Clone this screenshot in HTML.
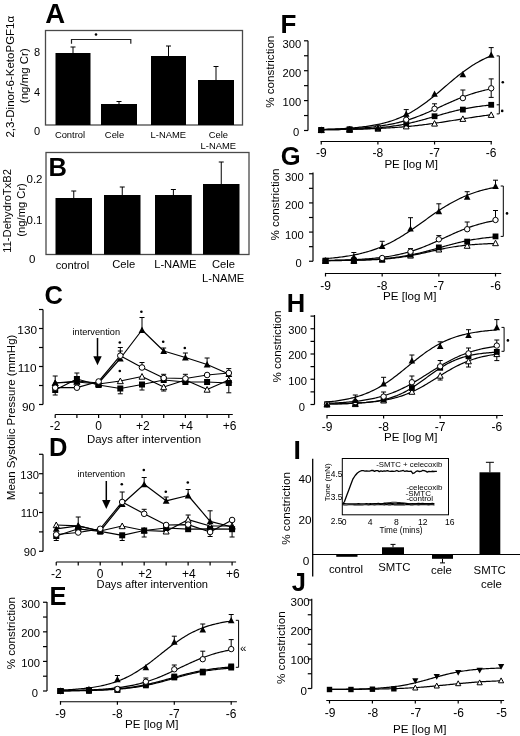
<!DOCTYPE html>
<html><head><meta charset="utf-8"><style>
html,body{margin:0;padding:0;background:#fff;}
svg{display:block;will-change:transform;}
text{font-family:"Liberation Sans", sans-serif;}
</style></head><body>
<svg width="520" height="736" viewBox="0 0 520 736">
<defs><filter id="soft" x="0" y="0" width="1" height="1"><feGaussianBlur stdDeviation="0.3"/></filter></defs>
<rect width="520" height="736" fill="#fff"/>
<g filter="url(#soft)">
<rect width="520" height="736" fill="#fff"/>
<text x="45.3" y="22.7" font-size="27.5" text-anchor="start" font-weight="bold" fill="#000">A</text>
<rect x="45.5" y="30.5" width="197" height="94.5" fill="none" stroke="#4a4a4a" stroke-width="1.3"/>
<rect x="55.5" y="53" width="35.0" height="72" fill="#000"/>
<line x1="73.0" y1="53" x2="73.0" y2="47" stroke="#000" stroke-width="1"/>
<line x1="70.5" y1="47" x2="75.5" y2="47" stroke="#000" stroke-width="1"/>
<rect x="101" y="104" width="36" height="21" fill="#000"/>
<line x1="119.0" y1="104" x2="119.0" y2="101.5" stroke="#000" stroke-width="1"/>
<line x1="116.5" y1="101.5" x2="121.5" y2="101.5" stroke="#000" stroke-width="1"/>
<rect x="151" y="56" width="35" height="69" fill="#000"/>
<line x1="168.5" y1="56" x2="168.5" y2="46" stroke="#000" stroke-width="1"/>
<line x1="166.0" y1="46" x2="171.0" y2="46" stroke="#000" stroke-width="1"/>
<rect x="198" y="80" width="36" height="45" fill="#000"/>
<line x1="216.0" y1="80" x2="216.0" y2="66.5" stroke="#000" stroke-width="1"/>
<line x1="213.5" y1="66.5" x2="218.5" y2="66.5" stroke="#000" stroke-width="1"/>
<path d="M71.5,43.8 V39.5 H130.8 V43.8" fill="none" stroke="#222" stroke-width="1.2"/>
<circle cx="96" cy="34.5" r="1.3" fill="#000"/>
<text x="40" y="55.8" font-size="11" text-anchor="end" fill="#000">8</text>
<text x="40" y="95.5" font-size="11" text-anchor="end" fill="#000">4</text>
<text x="40" y="135.3" font-size="11" text-anchor="end" fill="#000">0</text>
<text x="14.5" y="76.7" font-size="11.5" text-anchor="middle" transform="rotate(-90 14.5 76.7)" fill="#000">2,3-Dinor-6-KetoPGF1α</text>
<text x="28.2" y="75.7" font-size="11.5" text-anchor="middle" transform="rotate(-90 28.2 75.7)" fill="#000">(ng/mg Cr)</text>
<text x="70" y="137.9" font-size="9.4" text-anchor="middle" fill="#000">Control</text>
<text x="114.5" y="137.9" font-size="9.4" text-anchor="middle" fill="#000">Cele</text>
<text x="168.3" y="138.4" font-size="9.4" text-anchor="middle" fill="#000">L-NAME</text>
<text x="218.3" y="138.4" font-size="9.4" text-anchor="middle" fill="#000">Cele</text>
<text x="218.3" y="149.4" font-size="9.4" text-anchor="middle" fill="#000">L-NAME</text>
<text x="48.5" y="175.5" font-size="25.5" text-anchor="start" font-weight="bold" fill="#000">B</text>
<rect x="46" y="152.5" width="203" height="102" fill="none" stroke="#4a4a4a" stroke-width="1.3"/>
<rect x="55.5" y="198" width="36.5" height="56.5" fill="#000"/>
<line x1="73.75" y1="198" x2="73.75" y2="191" stroke="#000" stroke-width="1"/>
<line x1="71.25" y1="191" x2="76.25" y2="191" stroke="#000" stroke-width="1"/>
<rect x="104" y="195" width="36.5" height="59.5" fill="#000"/>
<line x1="122.25" y1="195" x2="122.25" y2="187" stroke="#000" stroke-width="1"/>
<line x1="119.75" y1="187" x2="124.75" y2="187" stroke="#000" stroke-width="1"/>
<rect x="155" y="195" width="36.75" height="59.5" fill="#000"/>
<line x1="173.375" y1="195" x2="173.375" y2="189.5" stroke="#000" stroke-width="1"/>
<line x1="170.875" y1="189.5" x2="175.875" y2="189.5" stroke="#000" stroke-width="1"/>
<rect x="203" y="184" width="36.5" height="70.5" fill="#000"/>
<line x1="221.25" y1="184" x2="221.25" y2="162" stroke="#000" stroke-width="1"/>
<line x1="218.75" y1="162" x2="223.75" y2="162" stroke="#000" stroke-width="1"/>
<text x="42.5" y="183.4" font-size="11.5" text-anchor="end" fill="#000">0.2</text>
<text x="42.5" y="223.79999999999998" font-size="11.5" text-anchor="end" fill="#000">0.1</text>
<text x="35.5" y="263.40000000000003" font-size="11.5" text-anchor="end" fill="#000">0</text>
<text x="10.6" y="210.9" font-size="11.2" text-anchor="middle" transform="rotate(-90 10.6 210.9)" fill="#000">11-DehydroTxB2</text>
<text x="24.6" y="209.9" font-size="11.2" text-anchor="middle" transform="rotate(-90 24.6 209.9)" fill="#000">(ng/mg Cr)</text>
<text x="72.5" y="269" font-size="11.2" text-anchor="middle" fill="#000">control</text>
<text x="123.8" y="268" font-size="11.2" text-anchor="middle" fill="#000">Cele</text>
<text x="175.3" y="268" font-size="11.2" text-anchor="middle" fill="#000">L-NAME</text>
<text x="223.5" y="268" font-size="11.2" text-anchor="middle" fill="#000">Cele</text>
<text x="223.2" y="281.5" font-size="11.2" text-anchor="middle" fill="#000">L-NAME</text>
<text x="44.5" y="304.2" font-size="25.5" text-anchor="start" font-weight="bold" fill="#000">C</text>
<line x1="43" y1="309.5" x2="43" y2="404.5" stroke="#000" stroke-width="1.2"/>
<line x1="39" y1="309.5" x2="43" y2="309.5" stroke="#000" stroke-width="1.2"/>
<line x1="39" y1="328.5" x2="43" y2="328.5" stroke="#000" stroke-width="1.2"/>
<line x1="39" y1="347.5" x2="43" y2="347.5" stroke="#000" stroke-width="1.2"/>
<line x1="39" y1="366.5" x2="43" y2="366.5" stroke="#000" stroke-width="1.2"/>
<line x1="39" y1="385.5" x2="43" y2="385.5" stroke="#000" stroke-width="1.2"/>
<line x1="39" y1="404.5" x2="43" y2="404.5" stroke="#000" stroke-width="1.2"/>
<text x="27.2" y="333.7" font-size="11.8" text-anchor="middle" fill="#000">130</text>
<text x="27.2" y="371.7" font-size="11.8" text-anchor="middle" fill="#000">110</text>
<text x="28.6" y="410.5" font-size="11.8" text-anchor="middle" fill="#000">90</text>
<line x1="55.2" y1="414.5" x2="232.8" y2="414.5" stroke="#000" stroke-width="1.2"/>
<line x1="55.2" y1="414.5" x2="55.2" y2="418.0" stroke="#000" stroke-width="1.2"/>
<line x1="76.9" y1="414.5" x2="76.9" y2="418.0" stroke="#000" stroke-width="1.2"/>
<line x1="98.6" y1="414.5" x2="98.6" y2="418.0" stroke="#000" stroke-width="1.2"/>
<line x1="120.3" y1="414.5" x2="120.3" y2="418.0" stroke="#000" stroke-width="1.2"/>
<line x1="142.0" y1="414.5" x2="142.0" y2="418.0" stroke="#000" stroke-width="1.2"/>
<line x1="163.7" y1="414.5" x2="163.7" y2="418.0" stroke="#000" stroke-width="1.2"/>
<line x1="185.39999999999998" y1="414.5" x2="185.39999999999998" y2="418.0" stroke="#000" stroke-width="1.2"/>
<line x1="207.10000000000002" y1="414.5" x2="207.10000000000002" y2="418.0" stroke="#000" stroke-width="1.2"/>
<line x1="228.8" y1="414.5" x2="228.8" y2="418.0" stroke="#000" stroke-width="1.2"/>
<text x="55.2" y="430.3" font-size="12" text-anchor="middle" fill="#000">-2</text>
<text x="98.6" y="430.3" font-size="12" text-anchor="middle" fill="#000">0</text>
<text x="142.8" y="430.3" font-size="12" text-anchor="middle" fill="#000">+2</text>
<text x="186.2" y="430.3" font-size="12" text-anchor="middle" fill="#000">+4</text>
<text x="229.60000000000002" y="430.3" font-size="12" text-anchor="middle" fill="#000">+6</text>
<text x="87" y="442.6" font-size="11.4" text-anchor="start" fill="#000">Days after intervention</text>
<text x="72.5" y="335.3" font-size="9.2" text-anchor="start" fill="#000">intervention</text>
<line x1="97.5" y1="338" x2="97.5" y2="359.2" stroke="#000" stroke-width="1.5"/>
<path d="M93.3,356.2 L101.7,356.2 L97.5,365.2 Z" fill="#000"/>
<line x1="55.2" y1="383" x2="55.2" y2="376" stroke="#000" stroke-width="1"/>
<line x1="52.7" y1="376" x2="57.7" y2="376" stroke="#000" stroke-width="1"/>
<line x1="163.7" y1="387" x2="163.7" y2="391" stroke="#000" stroke-width="1"/>
<line x1="161.2" y1="391" x2="166.2" y2="391" stroke="#000" stroke-width="1"/>
<line x1="55.2" y1="390" x2="55.2" y2="395" stroke="#000" stroke-width="1"/>
<line x1="52.7" y1="395" x2="57.7" y2="395" stroke="#000" stroke-width="1"/>
<line x1="76.9" y1="379" x2="76.9" y2="373" stroke="#000" stroke-width="1"/>
<line x1="74.4" y1="373" x2="79.4" y2="373" stroke="#000" stroke-width="1"/>
<line x1="120.3" y1="388.5" x2="120.3" y2="393.8" stroke="#000" stroke-width="1"/>
<line x1="117.8" y1="393.8" x2="122.8" y2="393.8" stroke="#000" stroke-width="1"/>
<line x1="142.0" y1="384.5" x2="142.0" y2="390" stroke="#000" stroke-width="1"/>
<line x1="139.5" y1="390" x2="144.5" y2="390" stroke="#000" stroke-width="1"/>
<line x1="228.8" y1="383" x2="228.8" y2="392.8" stroke="#000" stroke-width="1"/>
<line x1="226.3" y1="392.8" x2="231.3" y2="392.8" stroke="#000" stroke-width="1"/>
<line x1="120.3" y1="358.5" x2="120.3" y2="347.5" stroke="#000" stroke-width="1"/>
<line x1="117.8" y1="347.5" x2="122.8" y2="347.5" stroke="#000" stroke-width="1"/>
<line x1="142.0" y1="330" x2="142.0" y2="317.5" stroke="#000" stroke-width="1"/>
<line x1="139.5" y1="317.5" x2="144.5" y2="317.5" stroke="#000" stroke-width="1"/>
<line x1="163.7" y1="351" x2="163.7" y2="348" stroke="#000" stroke-width="1"/>
<line x1="161.2" y1="348" x2="166.2" y2="348" stroke="#000" stroke-width="1"/>
<line x1="185.39999999999998" y1="357.5" x2="185.39999999999998" y2="353" stroke="#000" stroke-width="1"/>
<line x1="182.89999999999998" y1="353" x2="187.89999999999998" y2="353" stroke="#000" stroke-width="1"/>
<line x1="207.10000000000002" y1="364.5" x2="207.10000000000002" y2="358" stroke="#000" stroke-width="1"/>
<line x1="204.60000000000002" y1="358" x2="209.60000000000002" y2="358" stroke="#000" stroke-width="1"/>
<line x1="120.3" y1="355.7" x2="120.3" y2="351" stroke="#000" stroke-width="1"/>
<line x1="117.8" y1="351" x2="122.8" y2="351" stroke="#000" stroke-width="1"/>
<line x1="142.0" y1="367.5" x2="142.0" y2="362.5" stroke="#000" stroke-width="1"/>
<line x1="139.5" y1="362.5" x2="144.5" y2="362.5" stroke="#000" stroke-width="1"/>
<line x1="163.7" y1="378" x2="163.7" y2="374.3" stroke="#000" stroke-width="1"/>
<line x1="161.2" y1="374.3" x2="166.2" y2="374.3" stroke="#000" stroke-width="1"/>
<line x1="185.39999999999998" y1="378.5" x2="185.39999999999998" y2="374.3" stroke="#000" stroke-width="1"/>
<line x1="182.89999999999998" y1="374.3" x2="187.89999999999998" y2="374.3" stroke="#000" stroke-width="1"/>
<line x1="228.8" y1="373" x2="228.8" y2="368.6" stroke="#000" stroke-width="1"/>
<line x1="226.3" y1="368.6" x2="231.3" y2="368.6" stroke="#000" stroke-width="1"/>
<polyline points="55.20,383.00 76.90,382.00 98.60,384.00 120.30,381.00 142.00,376.50 163.70,387.00 185.40,380.00 207.10,389.50 228.80,380.00" fill="none" stroke="#000" stroke-width="1.2" stroke-linejoin="round"/>
<polyline points="55.20,390.00 76.90,379.00 98.60,385.00 120.30,388.50 142.00,384.50 163.70,380.00 185.40,382.00 207.10,382.00 228.80,383.00" fill="none" stroke="#000" stroke-width="1.2" stroke-linejoin="round"/>
<polyline points="55.20,383.00 76.90,381.00 98.60,383.00 120.30,358.50 142.00,330.00 163.70,351.00 185.40,357.50 207.10,364.50 228.80,374.00" fill="none" stroke="#000" stroke-width="1.2" stroke-linejoin="round"/>
<polyline points="55.20,387.70 76.90,387.70 98.60,381.50 120.30,355.70 142.00,367.50 163.70,378.00 185.40,378.50 207.10,375.00 228.80,373.00" fill="none" stroke="#000" stroke-width="1.2" stroke-linejoin="round"/>
<path d="M55.20,380.00 L58.20,385.70 L52.20,385.70 Z" fill="#fff" stroke="#000" stroke-width="1"/>
<path d="M76.90,379.00 L79.90,384.70 L73.90,384.70 Z" fill="#fff" stroke="#000" stroke-width="1"/>
<path d="M98.60,381.00 L101.60,386.70 L95.60,386.70 Z" fill="#fff" stroke="#000" stroke-width="1"/>
<path d="M120.30,378.00 L123.30,383.70 L117.30,383.70 Z" fill="#fff" stroke="#000" stroke-width="1"/>
<path d="M142.00,373.50 L145.00,379.20 L139.00,379.20 Z" fill="#fff" stroke="#000" stroke-width="1"/>
<path d="M163.70,384.00 L166.70,389.70 L160.70,389.70 Z" fill="#fff" stroke="#000" stroke-width="1"/>
<path d="M185.40,377.00 L188.40,382.70 L182.40,382.70 Z" fill="#fff" stroke="#000" stroke-width="1"/>
<path d="M207.10,386.50 L210.10,392.20 L204.10,392.20 Z" fill="#fff" stroke="#000" stroke-width="1"/>
<path d="M228.80,377.00 L231.80,382.70 L225.80,382.70 Z" fill="#fff" stroke="#000" stroke-width="1"/>
<rect x="52.20" y="387.00" width="6.00" height="6.00" fill="#000"/>
<rect x="73.90" y="376.00" width="6.00" height="6.00" fill="#000"/>
<rect x="95.60" y="382.00" width="6.00" height="6.00" fill="#000"/>
<rect x="117.30" y="385.50" width="6.00" height="6.00" fill="#000"/>
<rect x="139.00" y="381.50" width="6.00" height="6.00" fill="#000"/>
<rect x="160.70" y="377.00" width="6.00" height="6.00" fill="#000"/>
<rect x="182.40" y="379.00" width="6.00" height="6.00" fill="#000"/>
<rect x="204.10" y="379.00" width="6.00" height="6.00" fill="#000"/>
<rect x="225.80" y="380.00" width="6.00" height="6.00" fill="#000"/>
<path d="M55.20,379.60 L58.60,386.00 L51.80,386.00 Z" fill="#000"/>
<path d="M76.90,377.60 L80.30,384.00 L73.50,384.00 Z" fill="#000"/>
<path d="M98.60,379.60 L102.00,386.00 L95.20,386.00 Z" fill="#000"/>
<path d="M120.30,355.10 L123.70,361.50 L116.90,361.50 Z" fill="#000"/>
<path d="M142.00,326.60 L145.40,333.00 L138.60,333.00 Z" fill="#000"/>
<path d="M163.70,347.60 L167.10,354.00 L160.30,354.00 Z" fill="#000"/>
<path d="M185.40,354.10 L188.80,360.50 L182.00,360.50 Z" fill="#000"/>
<path d="M207.10,361.10 L210.50,367.50 L203.70,367.50 Z" fill="#000"/>
<path d="M228.80,370.60 L232.20,377.00 L225.40,377.00 Z" fill="#000"/>
<circle cx="55.20" cy="387.70" r="2.80" fill="#fff" stroke="#000" stroke-width="1"/>
<circle cx="76.90" cy="387.70" r="2.80" fill="#fff" stroke="#000" stroke-width="1"/>
<circle cx="98.60" cy="381.50" r="2.80" fill="#fff" stroke="#000" stroke-width="1"/>
<circle cx="120.30" cy="355.70" r="2.80" fill="#fff" stroke="#000" stroke-width="1"/>
<circle cx="142.00" cy="367.50" r="2.80" fill="#fff" stroke="#000" stroke-width="1"/>
<circle cx="163.70" cy="378.00" r="2.80" fill="#fff" stroke="#000" stroke-width="1"/>
<circle cx="185.40" cy="378.50" r="2.80" fill="#fff" stroke="#000" stroke-width="1"/>
<circle cx="207.10" cy="375.00" r="2.80" fill="#fff" stroke="#000" stroke-width="1"/>
<circle cx="228.80" cy="373.00" r="2.80" fill="#fff" stroke="#000" stroke-width="1"/>
<circle cx="119.8" cy="342.5" r="1.3" fill="#000"/>
<circle cx="119.8" cy="371" r="1.3" fill="#000"/>
<circle cx="141.4" cy="311.8" r="1.3" fill="#000"/>
<circle cx="163.2" cy="341.8" r="1.3" fill="#000"/>
<circle cx="184.8" cy="348" r="1.3" fill="#000"/>
<text x="49" y="456.3" font-size="25.5" text-anchor="start" font-weight="bold" fill="#000">D</text>
<line x1="43" y1="454.3" x2="43" y2="551.3" stroke="#000" stroke-width="1.2"/>
<line x1="39" y1="454.3" x2="43" y2="454.3" stroke="#000" stroke-width="1.2"/>
<line x1="39" y1="473.7" x2="43" y2="473.7" stroke="#000" stroke-width="1.2"/>
<line x1="39" y1="493.09999999999997" x2="43" y2="493.09999999999997" stroke="#000" stroke-width="1.2"/>
<line x1="39" y1="512.5" x2="43" y2="512.5" stroke="#000" stroke-width="1.2"/>
<line x1="39" y1="531.9" x2="43" y2="531.9" stroke="#000" stroke-width="1.2"/>
<line x1="39" y1="551.3" x2="43" y2="551.3" stroke="#000" stroke-width="1.2"/>
<text x="29.6" y="478.6864406779661" font-size="11.2" text-anchor="middle" fill="#000">130</text>
<text x="29.6" y="517.4864406779661" font-size="11.2" text-anchor="middle" fill="#000">110</text>
<text x="30.0" y="556.2864406779661" font-size="11.2" text-anchor="middle" fill="#000">90</text>
<line x1="56.25" y1="562" x2="236.09" y2="562" stroke="#000" stroke-width="1.2"/>
<line x1="56.25" y1="562" x2="56.25" y2="565.5" stroke="#000" stroke-width="1.2"/>
<line x1="78.23" y1="562" x2="78.23" y2="565.5" stroke="#000" stroke-width="1.2"/>
<line x1="100.21000000000001" y1="562" x2="100.21000000000001" y2="565.5" stroke="#000" stroke-width="1.2"/>
<line x1="122.19" y1="562" x2="122.19" y2="565.5" stroke="#000" stroke-width="1.2"/>
<line x1="144.17000000000002" y1="562" x2="144.17000000000002" y2="565.5" stroke="#000" stroke-width="1.2"/>
<line x1="166.15" y1="562" x2="166.15" y2="565.5" stroke="#000" stroke-width="1.2"/>
<line x1="188.13" y1="562" x2="188.13" y2="565.5" stroke="#000" stroke-width="1.2"/>
<line x1="210.11" y1="562" x2="210.11" y2="565.5" stroke="#000" stroke-width="1.2"/>
<line x1="232.09" y1="562" x2="232.09" y2="565.5" stroke="#000" stroke-width="1.2"/>
<text x="56.25" y="577.8" font-size="12" text-anchor="middle" fill="#000">-2</text>
<text x="100.21000000000001" y="577.8" font-size="12" text-anchor="middle" fill="#000">0</text>
<text x="144.97000000000003" y="577.8" font-size="12" text-anchor="middle" fill="#000">+2</text>
<text x="188.93" y="577.8" font-size="12" text-anchor="middle" fill="#000">+4</text>
<text x="232.89000000000001" y="577.8" font-size="12" text-anchor="middle" fill="#000">+6</text>
<text x="96.6" y="587.6" font-size="11.15" text-anchor="start" fill="#000">Days after intervention</text>
<text x="77.5" y="476.9" font-size="9.2" text-anchor="start" fill="#000">intervention</text>
<line x1="106.3" y1="481" x2="106.3" y2="503" stroke="#000" stroke-width="1.5"/>
<path d="M102.1,500 L110.5,500 L106.3,509 Z" fill="#000"/>
<line x1="188.13" y1="519.7" x2="188.13" y2="515" stroke="#000" stroke-width="1"/>
<line x1="185.63" y1="515" x2="190.63" y2="515" stroke="#000" stroke-width="1"/>
<line x1="56.25" y1="536" x2="56.25" y2="540.5" stroke="#000" stroke-width="1"/>
<line x1="53.75" y1="540.5" x2="58.75" y2="540.5" stroke="#000" stroke-width="1"/>
<line x1="122.19" y1="535.3" x2="122.19" y2="540.5" stroke="#000" stroke-width="1"/>
<line x1="119.69" y1="540.5" x2="124.69" y2="540.5" stroke="#000" stroke-width="1"/>
<line x1="144.17000000000002" y1="530.5" x2="144.17000000000002" y2="537" stroke="#000" stroke-width="1"/>
<line x1="141.67000000000002" y1="537" x2="146.67000000000002" y2="537" stroke="#000" stroke-width="1"/>
<line x1="78.23" y1="525.8" x2="78.23" y2="517" stroke="#000" stroke-width="1"/>
<line x1="75.73" y1="517" x2="80.73" y2="517" stroke="#000" stroke-width="1"/>
<line x1="122.19" y1="504" x2="122.19" y2="492" stroke="#000" stroke-width="1"/>
<line x1="119.69" y1="492" x2="124.69" y2="492" stroke="#000" stroke-width="1"/>
<line x1="144.17000000000002" y1="484.3" x2="144.17000000000002" y2="477.5" stroke="#000" stroke-width="1"/>
<line x1="141.67000000000002" y1="477.5" x2="146.67000000000002" y2="477.5" stroke="#000" stroke-width="1"/>
<line x1="166.15" y1="500.8" x2="166.15" y2="497" stroke="#000" stroke-width="1"/>
<line x1="163.65" y1="497" x2="168.65" y2="497" stroke="#000" stroke-width="1"/>
<line x1="188.13" y1="495.5" x2="188.13" y2="489.5" stroke="#000" stroke-width="1"/>
<line x1="185.63" y1="489.5" x2="190.63" y2="489.5" stroke="#000" stroke-width="1"/>
<line x1="210.11" y1="521.3" x2="210.11" y2="510.8" stroke="#000" stroke-width="1"/>
<line x1="207.61" y1="510.8" x2="212.61" y2="510.8" stroke="#000" stroke-width="1"/>
<line x1="100.21000000000001" y1="528.8" x2="100.21000000000001" y2="534" stroke="#000" stroke-width="1"/>
<line x1="97.71000000000001" y1="534" x2="102.71000000000001" y2="534" stroke="#000" stroke-width="1"/>
<line x1="144.17000000000002" y1="513.8" x2="144.17000000000002" y2="509.3" stroke="#000" stroke-width="1"/>
<line x1="141.67000000000002" y1="509.3" x2="146.67000000000002" y2="509.3" stroke="#000" stroke-width="1"/>
<line x1="166.15" y1="525" x2="166.15" y2="530.5" stroke="#000" stroke-width="1"/>
<line x1="163.65" y1="530.5" x2="168.65" y2="530.5" stroke="#000" stroke-width="1"/>
<line x1="210.11" y1="532" x2="210.11" y2="536.5" stroke="#000" stroke-width="1"/>
<line x1="207.61" y1="536.5" x2="212.61" y2="536.5" stroke="#000" stroke-width="1"/>
<line x1="232.09" y1="520" x2="232.09" y2="537" stroke="#000" stroke-width="1"/>
<line x1="229.59" y1="537" x2="234.59" y2="537" stroke="#000" stroke-width="1"/>
<polyline points="56.25,525.00 78.23,525.80 100.21,531.00 122.19,526.00 144.17,530.50 166.15,531.30 188.13,519.70 210.11,526.00 232.09,526.00" fill="none" stroke="#000" stroke-width="1.2" stroke-linejoin="round"/>
<polyline points="56.25,536.00 78.23,528.80 100.21,531.30 122.19,535.30 144.17,530.50 166.15,528.00 188.13,529.20 210.11,528.80 232.09,529.20" fill="none" stroke="#000" stroke-width="1.2" stroke-linejoin="round"/>
<polyline points="56.25,528.80 78.23,525.80 100.21,531.00 122.19,504.00 144.17,484.30 166.15,500.80 188.13,495.50 210.11,521.30 232.09,527.00" fill="none" stroke="#000" stroke-width="1.2" stroke-linejoin="round"/>
<polyline points="56.25,534.50 78.23,532.50 100.21,528.80 122.19,502.00 144.17,513.80 166.15,525.00 188.13,524.60 210.11,532.00 232.09,520.00" fill="none" stroke="#000" stroke-width="1.2" stroke-linejoin="round"/>
<path d="M56.25,522.00 L59.25,527.70 L53.25,527.70 Z" fill="#fff" stroke="#000" stroke-width="1"/>
<path d="M78.23,522.80 L81.23,528.50 L75.23,528.50 Z" fill="#fff" stroke="#000" stroke-width="1"/>
<path d="M100.21,528.00 L103.21,533.70 L97.21,533.70 Z" fill="#fff" stroke="#000" stroke-width="1"/>
<path d="M122.19,523.00 L125.19,528.70 L119.19,528.70 Z" fill="#fff" stroke="#000" stroke-width="1"/>
<path d="M144.17,527.50 L147.17,533.20 L141.17,533.20 Z" fill="#fff" stroke="#000" stroke-width="1"/>
<path d="M166.15,528.30 L169.15,534.00 L163.15,534.00 Z" fill="#fff" stroke="#000" stroke-width="1"/>
<path d="M188.13,516.70 L191.13,522.40 L185.13,522.40 Z" fill="#fff" stroke="#000" stroke-width="1"/>
<path d="M210.11,523.00 L213.11,528.70 L207.11,528.70 Z" fill="#fff" stroke="#000" stroke-width="1"/>
<path d="M232.09,523.00 L235.09,528.70 L229.09,528.70 Z" fill="#fff" stroke="#000" stroke-width="1"/>
<rect x="53.25" y="533.00" width="6.00" height="6.00" fill="#000"/>
<rect x="75.23" y="525.80" width="6.00" height="6.00" fill="#000"/>
<rect x="97.21" y="528.30" width="6.00" height="6.00" fill="#000"/>
<rect x="119.19" y="532.30" width="6.00" height="6.00" fill="#000"/>
<rect x="141.17" y="527.50" width="6.00" height="6.00" fill="#000"/>
<rect x="163.15" y="525.00" width="6.00" height="6.00" fill="#000"/>
<rect x="185.13" y="526.20" width="6.00" height="6.00" fill="#000"/>
<rect x="207.11" y="525.80" width="6.00" height="6.00" fill="#000"/>
<rect x="229.09" y="526.20" width="6.00" height="6.00" fill="#000"/>
<path d="M56.25,525.40 L59.65,531.80 L52.85,531.80 Z" fill="#000"/>
<path d="M78.23,522.40 L81.63,528.80 L74.83,528.80 Z" fill="#000"/>
<path d="M100.21,527.60 L103.61,534.00 L96.81,534.00 Z" fill="#000"/>
<path d="M122.19,500.60 L125.59,507.00 L118.79,507.00 Z" fill="#000"/>
<path d="M144.17,480.90 L147.57,487.30 L140.77,487.30 Z" fill="#000"/>
<path d="M166.15,497.40 L169.55,503.80 L162.75,503.80 Z" fill="#000"/>
<path d="M188.13,492.10 L191.53,498.50 L184.73,498.50 Z" fill="#000"/>
<path d="M210.11,517.90 L213.51,524.30 L206.71,524.30 Z" fill="#000"/>
<path d="M232.09,523.60 L235.49,530.00 L228.69,530.00 Z" fill="#000"/>
<circle cx="56.25" cy="534.50" r="2.80" fill="#fff" stroke="#000" stroke-width="1"/>
<circle cx="78.23" cy="532.50" r="2.80" fill="#fff" stroke="#000" stroke-width="1"/>
<circle cx="100.21" cy="528.80" r="2.80" fill="#fff" stroke="#000" stroke-width="1"/>
<circle cx="122.19" cy="502.00" r="2.80" fill="#fff" stroke="#000" stroke-width="1"/>
<circle cx="144.17" cy="513.80" r="2.80" fill="#fff" stroke="#000" stroke-width="1"/>
<circle cx="166.15" cy="525.00" r="2.80" fill="#fff" stroke="#000" stroke-width="1"/>
<circle cx="188.13" cy="524.60" r="2.80" fill="#fff" stroke="#000" stroke-width="1"/>
<circle cx="210.11" cy="532.00" r="2.80" fill="#fff" stroke="#000" stroke-width="1"/>
<circle cx="232.09" cy="520.00" r="2.80" fill="#fff" stroke="#000" stroke-width="1"/>
<circle cx="121.8" cy="484.3" r="1.3" fill="#000"/>
<circle cx="143.8" cy="470" r="1.3" fill="#000"/>
<circle cx="165.8" cy="491.8" r="1.3" fill="#000"/>
<circle cx="187.8" cy="482.5" r="1.3" fill="#000"/>
<text x="14.8" y="417.4" font-size="11.5" text-anchor="middle" transform="rotate(-90 14.8 417.4)" fill="#000">Mean Systolic Pressure (mmHg)</text>
<text x="280.5" y="32.7" font-size="26" text-anchor="start" font-weight="bold" fill="#000">F</text>
<line x1="308" y1="40.8" x2="308" y2="130.5" stroke="#000" stroke-width="1.2"/>
<line x1="304" y1="40.8" x2="308" y2="40.8" stroke="#000" stroke-width="1.2"/>
<line x1="304" y1="55.75" x2="308" y2="55.75" stroke="#000" stroke-width="1.2"/>
<line x1="304" y1="70.7" x2="308" y2="70.7" stroke="#000" stroke-width="1.2"/>
<line x1="304" y1="85.65" x2="308" y2="85.65" stroke="#000" stroke-width="1.2"/>
<line x1="304" y1="100.6" x2="308" y2="100.6" stroke="#000" stroke-width="1.2"/>
<line x1="304" y1="115.55" x2="308" y2="115.55" stroke="#000" stroke-width="1.2"/>
<line x1="304" y1="130.5" x2="308" y2="130.5" stroke="#000" stroke-width="1.2"/>
<text x="301.2" y="47.7" font-size="11.2" text-anchor="end" fill="#000">300</text>
<text x="301.2" y="77.39999999999999" font-size="11.2" text-anchor="end" fill="#000">200</text>
<text x="301.2" y="106.39999999999999" font-size="11.2" text-anchor="end" fill="#000">100</text>
<text x="299.2" y="136.1" font-size="11.2" text-anchor="end" fill="#000">0</text>
<line x1="320.7" y1="141.5" x2="491.8" y2="141.5" stroke="#000" stroke-width="1.2"/>
<line x1="321.25" y1="140.9" x2="321.25" y2="144.5" stroke="#000" stroke-width="1.2"/>
<line x1="377.9" y1="140.9" x2="377.9" y2="144.5" stroke="#000" stroke-width="1.2"/>
<line x1="434.55" y1="140.9" x2="434.55" y2="144.5" stroke="#000" stroke-width="1.2"/>
<line x1="491.2" y1="140.9" x2="491.2" y2="144.5" stroke="#000" stroke-width="1.2"/>
<text x="321.25" y="157" font-size="12" text-anchor="middle" fill="#000">-9</text>
<text x="377.9" y="157" font-size="12" text-anchor="middle" fill="#000">-8</text>
<text x="434.55" y="157" font-size="12" text-anchor="middle" fill="#000">-7</text>
<text x="491.2" y="157" font-size="12" text-anchor="middle" fill="#000">-6</text>
<text x="384.4" y="168.4" font-size="11.6" text-anchor="start" fill="#000">PE [log M]</text>
<text x="274.3" y="71.75" font-size="11.6" text-anchor="middle" transform="rotate(-90 274.3 71.75)" fill="#000">% constriction</text>
<line x1="406.225" y1="119.7" x2="406.225" y2="116" stroke="#000" stroke-width="1"/>
<line x1="403.725" y1="116" x2="408.725" y2="116" stroke="#000" stroke-width="1"/>
<line x1="434.55" y1="108.75" x2="434.55" y2="103.8" stroke="#000" stroke-width="1"/>
<line x1="432.05" y1="103.8" x2="437.05" y2="103.8" stroke="#000" stroke-width="1"/>
<line x1="462.875" y1="98.1" x2="462.875" y2="90" stroke="#000" stroke-width="1"/>
<line x1="460.375" y1="90" x2="465.375" y2="90" stroke="#000" stroke-width="1"/>
<line x1="491.2" y1="88.3" x2="491.2" y2="78.9" stroke="#000" stroke-width="1"/>
<line x1="488.7" y1="78.9" x2="493.7" y2="78.9" stroke="#000" stroke-width="1"/>
<line x1="491.2" y1="88.3" x2="491.2" y2="97.4" stroke="#000" stroke-width="1"/>
<line x1="488.7" y1="97.4" x2="493.7" y2="97.4" stroke="#000" stroke-width="1"/>
<line x1="406.225" y1="113.9" x2="406.225" y2="109.6" stroke="#000" stroke-width="1"/>
<line x1="403.725" y1="109.6" x2="408.725" y2="109.6" stroke="#000" stroke-width="1"/>
<line x1="491.2" y1="54.8" x2="491.2" y2="47.6" stroke="#000" stroke-width="1"/>
<line x1="488.7" y1="47.6" x2="493.7" y2="47.6" stroke="#000" stroke-width="1"/>
<polyline points="321.25,129.73 322.68,129.72 324.11,129.71 325.53,129.69 326.96,129.68 328.39,129.67 329.82,129.65 331.25,129.63 332.68,129.62 334.10,129.60 335.53,129.58 336.96,129.56 338.39,129.54 339.82,129.52 341.24,129.50 342.67,129.48 344.10,129.45 345.53,129.43 346.96,129.40 348.38,129.38 349.81,129.35 351.24,129.32 352.67,129.29 354.10,129.26 355.53,129.22 356.95,129.19 358.38,129.15 359.81,129.12 361.24,129.08 362.67,129.03 364.09,128.99 365.52,128.95 366.95,128.90 368.38,128.85 369.81,128.80 371.24,128.75 372.66,128.70 374.09,128.64 375.52,128.58 376.95,128.52 378.38,128.45 379.80,128.39 381.23,128.32 382.66,128.25 384.09,128.17 385.52,128.10 386.94,128.02 388.37,127.93 389.80,127.85 391.23,127.76 392.66,127.67 394.09,127.57 395.51,127.47 396.94,127.37 398.37,127.26 399.80,127.15 401.23,127.04 402.65,126.92 404.08,126.80 405.51,126.68 406.94,126.55 408.37,126.41 409.80,126.28 411.22,126.14 412.65,125.99 414.08,125.85 415.51,125.69 416.94,125.54 418.36,125.38 419.79,125.21 421.22,125.04 422.65,124.87 424.08,124.69 425.51,124.51 426.93,124.33 428.36,124.14 429.79,123.95 431.22,123.75 432.65,123.56 434.07,123.35 435.50,123.15 436.93,122.94 438.36,122.73 439.79,122.52 441.21,122.30 442.64,122.08 444.07,121.86 445.50,121.64 446.93,121.42 448.36,121.19 449.78,120.96 451.21,120.73 452.64,120.50 454.07,120.27 455.50,120.04 456.92,119.81 458.35,119.58 459.78,119.35 461.21,119.12 462.64,118.90 464.07,118.67 465.49,118.44 466.92,118.22 468.35,117.99 469.78,117.77 471.21,117.55 472.63,117.34 474.06,117.12 475.49,116.91 476.92,116.70 478.35,116.49 479.77,116.29 481.20,116.09 482.63,115.90 484.06,115.70 485.49,115.51 486.92,115.33 488.34,115.15 489.77,114.97 491.20,114.80" fill="none" stroke="#000" stroke-width="1.2" stroke-linejoin="round"/>
<polyline points="321.25,129.79 322.68,129.78 324.11,129.77 325.53,129.75 326.96,129.74 328.39,129.72 329.82,129.70 331.25,129.68 332.68,129.66 334.10,129.64 335.53,129.62 336.96,129.60 338.39,129.57 339.82,129.54 341.24,129.52 342.67,129.49 344.10,129.45 345.53,129.42 346.96,129.38 348.38,129.35 349.81,129.31 351.24,129.26 352.67,129.22 354.10,129.17 355.53,129.12 356.95,129.07 358.38,129.01 359.81,128.95 361.24,128.89 362.67,128.82 364.09,128.75 365.52,128.67 366.95,128.59 368.38,128.51 369.81,128.42 371.24,128.33 372.66,128.23 374.09,128.12 375.52,128.01 376.95,127.90 378.38,127.78 379.80,127.65 381.23,127.51 382.66,127.37 384.09,127.22 385.52,127.07 386.94,126.90 388.37,126.73 389.80,126.55 391.23,126.36 392.66,126.17 394.09,125.96 395.51,125.74 396.94,125.52 398.37,125.29 399.80,125.04 401.23,124.79 402.65,124.53 404.08,124.26 405.51,123.97 406.94,123.68 408.37,123.38 409.80,123.07 411.22,122.75 412.65,122.42 414.08,122.08 415.51,121.73 416.94,121.37 418.36,121.01 419.79,120.64 421.22,120.26 422.65,119.87 424.08,119.48 425.51,119.09 426.93,118.68 428.36,118.28 429.79,117.87 431.22,117.46 432.65,117.04 434.07,116.63 435.50,116.21 436.93,115.80 438.36,115.38 439.79,114.97 441.21,114.56 442.64,114.15 444.07,113.75 445.50,113.35 446.93,112.96 448.36,112.58 449.78,112.20 451.21,111.83 452.64,111.46 454.07,111.11 455.50,110.76 456.92,110.42 458.35,110.09 459.78,109.77 461.21,109.46 462.64,109.16 464.07,108.86 465.49,108.58 466.92,108.31 468.35,108.05 469.78,107.79 471.21,107.55 472.63,107.32 474.06,107.09 475.49,106.88 476.92,106.67 478.35,106.48 479.77,106.29 481.20,106.11 482.63,105.93 484.06,105.77 485.49,105.61 486.92,105.47 488.34,105.32 489.77,105.19 491.20,105.06" fill="none" stroke="#000" stroke-width="1.2" stroke-linejoin="round"/>
<polyline points="321.25,129.58 322.68,129.55 324.11,129.53 325.53,129.50 326.96,129.47 328.39,129.44 329.82,129.41 331.25,129.38 332.68,129.34 334.10,129.31 335.53,129.27 336.96,129.22 338.39,129.18 339.82,129.13 341.24,129.08 342.67,129.03 344.10,128.98 345.53,128.92 346.96,128.86 348.38,128.80 349.81,128.73 351.24,128.66 352.67,128.58 354.10,128.50 355.53,128.42 356.95,128.33 358.38,128.24 359.81,128.14 361.24,128.04 362.67,127.93 364.09,127.81 365.52,127.69 366.95,127.57 368.38,127.43 369.81,127.29 371.24,127.15 372.66,126.99 374.09,126.83 375.52,126.66 376.95,126.48 378.38,126.29 379.80,126.10 381.23,125.89 382.66,125.68 384.09,125.45 385.52,125.21 386.94,124.97 388.37,124.71 389.80,124.44 391.23,124.16 392.66,123.86 394.09,123.56 395.51,123.24 396.94,122.91 398.37,122.56 399.80,122.20 401.23,121.83 402.65,121.45 404.08,121.05 405.51,120.63 406.94,120.20 408.37,119.76 409.80,119.31 411.22,118.83 412.65,118.35 414.08,117.85 415.51,117.34 416.94,116.81 418.36,116.27 419.79,115.72 421.22,115.16 422.65,114.58 424.08,114.00 425.51,113.40 426.93,112.79 428.36,112.18 429.79,111.55 431.22,110.92 432.65,110.28 434.07,109.64 435.50,108.99 436.93,108.34 438.36,107.68 439.79,107.02 441.21,106.36 442.64,105.71 444.07,105.05 445.50,104.40 446.93,103.75 448.36,103.10 449.78,102.46 451.21,101.83 452.64,101.20 454.07,100.58 455.50,99.97 456.92,99.37 458.35,98.78 459.78,98.20 461.21,97.63 462.64,97.08 464.07,96.53 465.49,96.00 466.92,95.49 468.35,94.98 469.78,94.49 471.21,94.02 472.63,93.56 474.06,93.11 475.49,92.68 476.92,92.26 478.35,91.85 479.77,91.46 481.20,91.08 482.63,90.72 484.06,90.37 485.49,90.04 486.92,89.71 488.34,89.40 489.77,89.11 491.20,88.82" fill="none" stroke="#000" stroke-width="1.2" stroke-linejoin="round"/>
<polyline points="321.25,129.39 322.68,129.36 324.11,129.32 325.53,129.28 326.96,129.24 328.39,129.19 329.82,129.15 331.25,129.10 332.68,129.04 334.10,128.99 335.53,128.93 336.96,128.87 338.39,128.80 339.82,128.73 341.24,128.66 342.67,128.58 344.10,128.50 345.53,128.41 346.96,128.32 348.38,128.22 349.81,128.12 351.24,128.01 352.67,127.90 354.10,127.78 355.53,127.65 356.95,127.52 358.38,127.37 359.81,127.22 361.24,127.07 362.67,126.90 364.09,126.72 365.52,126.54 366.95,126.34 368.38,126.14 369.81,125.92 371.24,125.69 372.66,125.45 374.09,125.20 375.52,124.93 376.95,124.65 378.38,124.36 379.80,124.05 381.23,123.72 382.66,123.38 384.09,123.02 385.52,122.65 386.94,122.25 388.37,121.84 389.80,121.41 391.23,120.95 392.66,120.48 394.09,119.98 395.51,119.47 396.94,118.92 398.37,118.36 399.80,117.77 401.23,117.16 402.65,116.52 404.08,115.86 405.51,115.17 406.94,114.45 408.37,113.71 409.80,112.94 411.22,112.15 412.65,111.32 414.08,110.47 415.51,109.60 416.94,108.69 418.36,107.76 419.79,106.81 421.22,105.83 422.65,104.82 424.08,103.79 425.51,102.74 426.93,101.66 428.36,100.57 429.79,99.45 431.22,98.32 432.65,97.17 434.07,96.00 435.50,94.82 436.93,93.63 438.36,92.42 439.79,91.21 441.21,89.99 442.64,88.77 444.07,87.55 445.50,86.32 446.93,85.10 448.36,83.88 449.78,82.66 451.21,81.45 452.64,80.25 454.07,79.07 455.50,77.89 456.92,76.73 458.35,75.59 459.78,74.46 461.21,73.35 462.64,72.26 464.07,71.20 465.49,70.16 466.92,69.14 468.35,68.14 469.78,67.17 471.21,66.23 472.63,65.31 474.06,64.42 475.49,63.55 476.92,62.71 478.35,61.90 479.77,61.12 481.20,60.36 482.63,59.63 484.06,58.92 485.49,58.25 486.92,57.59 488.34,56.97 489.77,56.37 491.20,55.79" fill="none" stroke="#000" stroke-width="1.2" stroke-linejoin="round"/>
<path d="M321.25,127.10 L324.15,132.60 L318.35,132.60 Z" fill="#fff" stroke="#000" stroke-width="1"/>
<path d="M349.57,126.60 L352.47,132.10 L346.68,132.10 Z" fill="#fff" stroke="#000" stroke-width="1"/>
<path d="M377.90,125.60 L380.80,131.10 L375.00,131.10 Z" fill="#fff" stroke="#000" stroke-width="1"/>
<path d="M406.23,123.40 L409.12,128.90 L403.33,128.90 Z" fill="#fff" stroke="#000" stroke-width="1"/>
<path d="M434.55,120.60 L437.45,126.10 L431.65,126.10 Z" fill="#fff" stroke="#000" stroke-width="1"/>
<path d="M462.88,115.90 L465.77,121.40 L459.98,121.40 Z" fill="#fff" stroke="#000" stroke-width="1"/>
<path d="M491.20,111.90 L494.10,117.40 L488.30,117.40 Z" fill="#fff" stroke="#000" stroke-width="1"/>
<rect x="318.35" y="127.10" width="5.80" height="5.80" fill="#000"/>
<rect x="346.68" y="126.60" width="5.80" height="5.80" fill="#000"/>
<rect x="375.00" y="125.50" width="5.80" height="5.80" fill="#000"/>
<rect x="403.33" y="120.60" width="5.80" height="5.80" fill="#000"/>
<rect x="431.65" y="113.35" width="5.80" height="5.80" fill="#000"/>
<rect x="459.98" y="106.70" width="5.80" height="5.80" fill="#000"/>
<rect x="488.30" y="101.90" width="5.80" height="5.80" fill="#000"/>
<circle cx="321.25" cy="130.00" r="2.70" fill="#fff" stroke="#000" stroke-width="1"/>
<circle cx="349.57" cy="129.50" r="2.70" fill="#fff" stroke="#000" stroke-width="1"/>
<circle cx="377.90" cy="127.50" r="2.70" fill="#fff" stroke="#000" stroke-width="1"/>
<circle cx="406.23" cy="119.70" r="2.70" fill="#fff" stroke="#000" stroke-width="1"/>
<circle cx="434.55" cy="108.75" r="2.70" fill="#fff" stroke="#000" stroke-width="1"/>
<circle cx="462.88" cy="98.10" r="2.70" fill="#fff" stroke="#000" stroke-width="1"/>
<circle cx="491.20" cy="88.30" r="2.70" fill="#fff" stroke="#000" stroke-width="1"/>
<path d="M321.25,126.70 L324.55,132.90 L317.95,132.90 Z" fill="#000"/>
<path d="M349.57,126.20 L352.87,132.40 L346.28,132.40 Z" fill="#000"/>
<path d="M377.90,123.70 L381.20,129.90 L374.60,129.90 Z" fill="#000"/>
<path d="M406.23,110.60 L409.52,116.80 L402.93,116.80 Z" fill="#000"/>
<path d="M434.55,90.45 L437.85,96.65 L431.25,96.65 Z" fill="#000"/>
<path d="M462.88,71.10 L466.17,77.30 L459.58,77.30 Z" fill="#000"/>
<path d="M491.20,51.50 L494.50,57.70 L487.90,57.70 Z" fill="#000"/>
<rect x="318.35" y="127.10" width="5.80" height="5.80" fill="#000"/>
<rect x="346.68" y="126.60" width="5.80" height="5.80" fill="#000"/>
<path d="M496.7,55.9 H499.3 V113.9 H496.7 M499.3,104.8 H496.7" fill="none" stroke="#000" stroke-width="1"/>
<circle cx="502.8" cy="82.2" r="1.3" fill="#000"/>
<circle cx="502.2" cy="110.9" r="1.3" fill="#000"/>
<text x="280.8" y="165" font-size="25.5" text-anchor="start" font-weight="bold" fill="#000">G</text>
<line x1="313" y1="172.5" x2="313" y2="261.25" stroke="#000" stroke-width="1.2"/>
<line x1="309" y1="173.75" x2="313" y2="173.75" stroke="#000" stroke-width="1.2"/>
<line x1="309" y1="188.33333333333334" x2="313" y2="188.33333333333334" stroke="#000" stroke-width="1.2"/>
<line x1="309" y1="202.91666666666666" x2="313" y2="202.91666666666666" stroke="#000" stroke-width="1.2"/>
<line x1="309" y1="217.5" x2="313" y2="217.5" stroke="#000" stroke-width="1.2"/>
<line x1="309" y1="232.08333333333334" x2="313" y2="232.08333333333334" stroke="#000" stroke-width="1.2"/>
<line x1="309" y1="246.66666666666669" x2="313" y2="246.66666666666669" stroke="#000" stroke-width="1.2"/>
<line x1="309" y1="261.25" x2="313" y2="261.25" stroke="#000" stroke-width="1.2"/>
<text x="303.75" y="180.6" font-size="11.2" text-anchor="end" fill="#000">300</text>
<text x="303.75" y="209.1" font-size="11.2" text-anchor="end" fill="#000">200</text>
<text x="303.75" y="238.6" font-size="11.2" text-anchor="end" fill="#000">100</text>
<text x="301.75" y="267.35" font-size="11.2" text-anchor="end" fill="#000">0</text>
<line x1="325.5" y1="273.5" x2="501.2" y2="273.5" stroke="#000" stroke-width="1.2"/>
<line x1="325.5" y1="272.9" x2="325.5" y2="276.5" stroke="#000" stroke-width="1.2"/>
<line x1="382.17" y1="272.9" x2="382.17" y2="276.5" stroke="#000" stroke-width="1.2"/>
<line x1="438.84000000000003" y1="272.9" x2="438.84000000000003" y2="276.5" stroke="#000" stroke-width="1.2"/>
<line x1="495.51" y1="272.9" x2="495.51" y2="276.5" stroke="#000" stroke-width="1.2"/>
<text x="325.5" y="290.3" font-size="12" text-anchor="middle" fill="#000">-9</text>
<text x="382.17" y="290.3" font-size="12" text-anchor="middle" fill="#000">-8</text>
<text x="438.84000000000003" y="290.3" font-size="12" text-anchor="middle" fill="#000">-7</text>
<text x="495.51" y="290.3" font-size="12" text-anchor="middle" fill="#000">-6</text>
<text x="383" y="299.8" font-size="11.6" text-anchor="start" fill="#000">PE [log M]</text>
<text x="279.3" y="204.5" font-size="11.6" text-anchor="middle" transform="rotate(-90 279.3 204.5)" fill="#000">% constriction</text>
<line x1="410.505" y1="251.7" x2="410.505" y2="248.6" stroke="#000" stroke-width="1"/>
<line x1="408.005" y1="248.6" x2="413.005" y2="248.6" stroke="#000" stroke-width="1"/>
<line x1="438.84000000000003" y1="239.3" x2="438.84000000000003" y2="235.6" stroke="#000" stroke-width="1"/>
<line x1="436.34000000000003" y1="235.6" x2="441.34000000000003" y2="235.6" stroke="#000" stroke-width="1"/>
<line x1="467.175" y1="229.2" x2="467.175" y2="222" stroke="#000" stroke-width="1"/>
<line x1="464.675" y1="222" x2="469.675" y2="222" stroke="#000" stroke-width="1"/>
<line x1="495.51" y1="220" x2="495.51" y2="210.5" stroke="#000" stroke-width="1"/>
<line x1="493.01" y1="210.5" x2="498.01" y2="210.5" stroke="#000" stroke-width="1"/>
<line x1="353.835" y1="257" x2="353.835" y2="252.5" stroke="#000" stroke-width="1"/>
<line x1="351.335" y1="252.5" x2="356.335" y2="252.5" stroke="#000" stroke-width="1"/>
<line x1="382.17" y1="246" x2="382.17" y2="241.3" stroke="#000" stroke-width="1"/>
<line x1="379.67" y1="241.3" x2="384.67" y2="241.3" stroke="#000" stroke-width="1"/>
<line x1="410.505" y1="228.7" x2="410.505" y2="217.7" stroke="#000" stroke-width="1"/>
<line x1="408.005" y1="217.7" x2="413.005" y2="217.7" stroke="#000" stroke-width="1"/>
<line x1="438.84000000000003" y1="211.3" x2="438.84000000000003" y2="203.8" stroke="#000" stroke-width="1"/>
<line x1="436.34000000000003" y1="203.8" x2="441.34000000000003" y2="203.8" stroke="#000" stroke-width="1"/>
<line x1="467.175" y1="196.9" x2="467.175" y2="191.7" stroke="#000" stroke-width="1"/>
<line x1="464.675" y1="191.7" x2="469.675" y2="191.7" stroke="#000" stroke-width="1"/>
<line x1="495.51" y1="186" x2="495.51" y2="180.2" stroke="#000" stroke-width="1"/>
<line x1="493.01" y1="180.2" x2="498.01" y2="180.2" stroke="#000" stroke-width="1"/>
<polyline points="325.50,260.65 326.93,260.65 328.36,260.64 329.79,260.63 331.21,260.62 332.64,260.61 334.07,260.60 335.50,260.59 336.93,260.58 338.36,260.57 339.79,260.55 341.22,260.54 342.64,260.52 344.07,260.51 345.50,260.49 346.93,260.47 348.36,260.45 349.79,260.43 351.22,260.40 352.64,260.38 354.07,260.35 355.50,260.32 356.93,260.29 358.36,260.25 359.79,260.22 361.22,260.18 362.65,260.14 364.07,260.09 365.50,260.05 366.93,260.00 368.36,259.94 369.79,259.89 371.22,259.83 372.65,259.76 374.07,259.69 375.50,259.62 376.93,259.54 378.36,259.45 379.79,259.36 381.22,259.27 382.65,259.17 384.07,259.06 385.50,258.95 386.93,258.83 388.36,258.70 389.79,258.56 391.22,258.42 392.65,258.27 394.08,258.11 395.50,257.95 396.93,257.77 398.36,257.59 399.79,257.40 401.22,257.20 402.65,256.99 404.08,256.77 405.50,256.54 406.93,256.31 408.36,256.06 409.79,255.81 411.22,255.54 412.65,255.27 414.08,255.00 415.51,254.71 416.93,254.42 418.36,254.12 419.79,253.82 421.22,253.51 422.65,253.20 424.08,252.88 425.51,252.56 426.93,252.24 428.36,251.92 429.79,251.60 431.22,251.28 432.65,250.96 434.08,250.64 435.51,250.32 436.94,250.01 438.36,249.70 439.79,249.40 441.22,249.11 442.65,248.82 444.08,248.54 445.51,248.26 446.94,247.99 448.36,247.73 449.79,247.48 451.22,247.24 452.65,247.01 454.08,246.78 455.51,246.57 456.94,246.36 458.36,246.16 459.79,245.97 461.22,245.79 462.65,245.62 464.08,245.46 465.51,245.30 466.94,245.15 468.37,245.01 469.79,244.88 471.22,244.76 472.65,244.64 474.08,244.53 475.51,244.42 476.94,244.32 478.37,244.23 479.79,244.14 481.22,244.06 482.65,243.98 484.08,243.91 485.51,243.84 486.94,243.78 488.37,243.72 489.80,243.66 491.22,243.61 492.65,243.56 494.08,243.51 495.51,243.47" fill="none" stroke="#000" stroke-width="1.2" stroke-linejoin="round"/>
<polyline points="325.50,260.57 326.93,260.56 328.36,260.54 329.79,260.53 331.21,260.52 332.64,260.50 334.07,260.49 335.50,260.47 336.93,260.45 338.36,260.43 339.79,260.41 341.22,260.39 342.64,260.37 344.07,260.35 345.50,260.32 346.93,260.29 348.36,260.26 349.79,260.23 351.22,260.20 352.64,260.17 354.07,260.13 355.50,260.09 356.93,260.05 358.36,260.01 359.79,259.96 361.22,259.91 362.65,259.86 364.07,259.80 365.50,259.74 366.93,259.68 368.36,259.62 369.79,259.55 371.22,259.47 372.65,259.40 374.07,259.32 375.50,259.23 376.93,259.14 378.36,259.04 379.79,258.94 381.22,258.83 382.65,258.72 384.07,258.60 385.50,258.47 386.93,258.34 388.36,258.20 389.79,258.05 391.22,257.90 392.65,257.74 394.08,257.57 395.50,257.39 396.93,257.20 398.36,257.01 399.79,256.80 401.22,256.59 402.65,256.37 404.08,256.14 405.50,255.90 406.93,255.65 408.36,255.39 409.79,255.12 411.22,254.84 412.65,254.55 414.08,254.25 415.51,253.94 416.93,253.63 418.36,253.30 419.79,252.97 421.22,252.62 422.65,252.27 424.08,251.91 425.51,251.55 426.93,251.18 428.36,250.80 429.79,250.41 431.22,250.02 432.65,249.63 434.08,249.23 435.51,248.83 436.94,248.43 438.36,248.03 439.79,247.62 441.22,247.22 442.65,246.82 444.08,246.42 445.51,246.02 446.94,245.62 448.36,245.23 449.79,244.85 451.22,244.47 452.65,244.09 454.08,243.72 455.51,243.36 456.94,243.01 458.36,242.66 459.79,242.33 461.22,242.00 462.65,241.68 464.08,241.37 465.51,241.07 466.94,240.78 468.37,240.50 469.79,240.22 471.22,239.96 472.65,239.71 474.08,239.46 475.51,239.23 476.94,239.01 478.37,238.79 479.79,238.58 481.22,238.39 482.65,238.20 484.08,238.02 485.51,237.85 486.94,237.68 488.37,237.53 489.80,237.38 491.22,237.24 492.65,237.10 494.08,236.97 495.51,236.85" fill="none" stroke="#000" stroke-width="1.2" stroke-linejoin="round"/>
<polyline points="325.50,260.39 326.93,260.37 328.36,260.35 329.79,260.32 331.21,260.30 332.64,260.27 334.07,260.24 335.50,260.21 336.93,260.18 338.36,260.15 339.79,260.11 341.22,260.07 342.64,260.03 344.07,259.99 345.50,259.94 346.93,259.90 348.36,259.85 349.79,259.79 351.22,259.74 352.64,259.68 354.07,259.62 355.50,259.55 356.93,259.48 358.36,259.40 359.79,259.33 361.22,259.24 362.65,259.16 364.07,259.06 365.50,258.97 366.93,258.86 368.36,258.75 369.79,258.64 371.22,258.52 372.65,258.39 374.07,258.26 375.50,258.12 376.93,257.97 378.36,257.81 379.79,257.65 381.22,257.47 382.65,257.29 384.07,257.10 385.50,256.90 386.93,256.69 388.36,256.47 389.79,256.24 391.22,255.99 392.65,255.74 394.08,255.47 395.50,255.20 396.93,254.91 398.36,254.60 399.79,254.28 401.22,253.95 402.65,253.61 404.08,253.25 405.50,252.88 406.93,252.49 408.36,252.09 409.79,251.68 411.22,251.25 412.65,250.80 414.08,250.34 415.51,249.86 416.93,249.37 418.36,248.87 419.79,248.35 421.22,247.82 422.65,247.28 424.08,246.72 425.51,246.15 426.93,245.56 428.36,244.97 429.79,244.37 431.22,243.75 432.65,243.13 434.08,242.50 435.51,241.86 436.94,241.22 438.36,240.57 439.79,239.92 441.22,239.26 442.65,238.60 444.08,237.94 445.51,237.29 446.94,236.63 448.36,235.98 449.79,235.33 451.22,234.68 452.65,234.04 454.08,233.41 455.51,232.79 456.94,232.17 458.36,231.57 459.79,230.97 461.22,230.39 462.65,229.81 464.08,229.25 465.51,228.71 466.94,228.17 468.37,227.65 469.79,227.14 471.22,226.65 472.65,226.17 474.08,225.71 475.51,225.26 476.94,224.83 478.37,224.41 479.79,224.01 481.22,223.62 482.65,223.24 484.08,222.88 485.51,222.54 486.94,222.20 488.37,221.89 489.80,221.58 491.22,221.29 492.65,221.01 494.08,220.74 495.51,220.48" fill="none" stroke="#000" stroke-width="1.2" stroke-linejoin="round"/>
<polyline points="325.50,258.61 326.93,258.50 328.36,258.38 329.79,258.26 331.21,258.13 332.64,257.99 334.07,257.85 335.50,257.70 336.93,257.54 338.36,257.38 339.79,257.21 341.22,257.02 342.64,256.83 344.07,256.64 345.50,256.43 346.93,256.21 348.36,255.98 349.79,255.74 351.22,255.49 352.64,255.23 354.07,254.96 355.50,254.67 356.93,254.37 358.36,254.06 359.79,253.73 361.22,253.39 362.65,253.04 364.07,252.67 365.50,252.28 366.93,251.88 368.36,251.46 369.79,251.02 371.22,250.57 372.65,250.10 374.07,249.61 375.50,249.10 376.93,248.57 378.36,248.02 379.79,247.46 381.22,246.87 382.65,246.27 384.07,245.64 385.50,244.99 386.93,244.32 388.36,243.63 389.79,242.93 391.22,242.20 392.65,241.45 394.08,240.68 395.50,239.89 396.93,239.08 398.36,238.25 399.79,237.40 401.22,236.53 402.65,235.65 404.08,234.75 405.50,233.83 406.93,232.90 408.36,231.96 409.79,231.00 411.22,230.03 412.65,229.04 414.08,228.05 415.51,227.05 416.93,226.04 418.36,225.03 419.79,224.01 421.22,222.98 422.65,221.96 424.08,220.93 425.51,219.90 426.93,218.88 428.36,217.86 429.79,216.84 431.22,215.83 432.65,214.83 434.08,213.84 435.51,212.85 436.94,211.88 438.36,210.92 439.79,209.97 441.22,209.04 442.65,208.12 444.08,207.22 445.51,206.33 446.94,205.47 448.36,204.62 449.79,203.78 451.22,202.97 452.65,202.18 454.08,201.41 455.51,200.66 456.94,199.92 458.36,199.21 459.79,198.52 461.22,197.85 462.65,197.20 464.08,196.57 465.51,195.96 466.94,195.37 468.37,194.81 469.79,194.26 471.22,193.73 472.65,193.22 474.08,192.72 475.51,192.25 476.94,191.80 478.37,191.36 479.79,190.94 481.22,190.53 482.65,190.14 484.08,189.77 485.51,189.41 486.94,189.07 488.37,188.74 489.80,188.43 491.22,188.13 492.65,187.84 494.08,187.57 495.51,187.30" fill="none" stroke="#000" stroke-width="1.2" stroke-linejoin="round"/>
<path d="M325.50,257.85 L328.40,263.35 L322.60,263.35 Z" fill="#fff" stroke="#000" stroke-width="1"/>
<path d="M353.83,257.85 L356.73,263.35 L350.94,263.35 Z" fill="#fff" stroke="#000" stroke-width="1"/>
<path d="M382.17,256.60 L385.07,262.10 L379.27,262.10 Z" fill="#fff" stroke="#000" stroke-width="1"/>
<path d="M410.50,252.60 L413.40,258.10 L407.61,258.10 Z" fill="#fff" stroke="#000" stroke-width="1"/>
<path d="M438.84,246.50 L441.74,252.00 L435.94,252.00 Z" fill="#fff" stroke="#000" stroke-width="1"/>
<path d="M467.18,242.80 L470.07,248.30 L464.28,248.30 Z" fill="#fff" stroke="#000" stroke-width="1"/>
<path d="M495.51,240.20 L498.41,245.70 L492.61,245.70 Z" fill="#fff" stroke="#000" stroke-width="1"/>
<rect x="322.60" y="257.85" width="5.80" height="5.80" fill="#000"/>
<rect x="350.94" y="257.85" width="5.80" height="5.80" fill="#000"/>
<rect x="379.27" y="256.60" width="5.80" height="5.80" fill="#000"/>
<rect x="407.61" y="251.70" width="5.80" height="5.80" fill="#000"/>
<rect x="435.94" y="244.50" width="5.80" height="5.80" fill="#000"/>
<rect x="464.28" y="238.70" width="5.80" height="5.80" fill="#000"/>
<rect x="492.61" y="233.50" width="5.80" height="5.80" fill="#000"/>
<circle cx="325.50" cy="260.75" r="2.70" fill="#fff" stroke="#000" stroke-width="1"/>
<circle cx="353.83" cy="259.50" r="2.70" fill="#fff" stroke="#000" stroke-width="1"/>
<circle cx="382.17" cy="258.00" r="2.70" fill="#fff" stroke="#000" stroke-width="1"/>
<circle cx="410.50" cy="251.70" r="2.70" fill="#fff" stroke="#000" stroke-width="1"/>
<circle cx="438.84" cy="239.30" r="2.70" fill="#fff" stroke="#000" stroke-width="1"/>
<circle cx="467.18" cy="229.20" r="2.70" fill="#fff" stroke="#000" stroke-width="1"/>
<circle cx="495.51" cy="220.00" r="2.70" fill="#fff" stroke="#000" stroke-width="1"/>
<path d="M325.50,257.45 L328.80,263.65 L322.20,263.65 Z" fill="#000"/>
<path d="M353.83,253.70 L357.13,259.90 L350.54,259.90 Z" fill="#000"/>
<path d="M382.17,242.70 L385.47,248.90 L378.87,248.90 Z" fill="#000"/>
<path d="M410.50,225.40 L413.80,231.60 L407.21,231.60 Z" fill="#000"/>
<path d="M438.84,208.00 L442.14,214.20 L435.54,214.20 Z" fill="#000"/>
<path d="M467.18,193.60 L470.47,199.80 L463.88,199.80 Z" fill="#000"/>
<path d="M495.51,182.70 L498.81,188.90 L492.21,188.90 Z" fill="#000"/>
<rect x="322.60" y="257.85" width="5.80" height="5.80" fill="#000"/>
<rect x="350.94" y="257.85" width="5.80" height="5.80" fill="#000"/>
<path d="M500.7,186 H503.3 V236.4 H500.7" fill="none" stroke="#000" stroke-width="1"/>
<circle cx="507" cy="213.4" r="1.3" fill="#000"/>
<text x="286.8" y="312" font-size="25.5" text-anchor="start" font-weight="bold" fill="#000">H</text>
<line x1="314.5" y1="315" x2="314.5" y2="404.5" stroke="#000" stroke-width="1.2"/>
<line x1="310.5" y1="316.125" x2="314.5" y2="316.125" stroke="#000" stroke-width="1.2"/>
<line x1="310.5" y1="328.75" x2="314.5" y2="328.75" stroke="#000" stroke-width="1.2"/>
<line x1="310.5" y1="341.375" x2="314.5" y2="341.375" stroke="#000" stroke-width="1.2"/>
<line x1="310.5" y1="354.0" x2="314.5" y2="354.0" stroke="#000" stroke-width="1.2"/>
<line x1="310.5" y1="366.625" x2="314.5" y2="366.625" stroke="#000" stroke-width="1.2"/>
<line x1="310.5" y1="379.25" x2="314.5" y2="379.25" stroke="#000" stroke-width="1.2"/>
<line x1="310.5" y1="391.875" x2="314.5" y2="391.875" stroke="#000" stroke-width="1.2"/>
<line x1="310.5" y1="404.5" x2="314.5" y2="404.5" stroke="#000" stroke-width="1.2"/>
<text x="307" y="333.6" font-size="11.2" text-anchor="end" fill="#000">300</text>
<text x="307" y="359.1" font-size="11.2" text-anchor="end" fill="#000">200</text>
<text x="307" y="384.85" font-size="11.2" text-anchor="end" fill="#000">100</text>
<text x="305.0" y="410.6" font-size="11.2" text-anchor="end" fill="#000">0</text>
<line x1="327" y1="415.5" x2="503" y2="415.5" stroke="#000" stroke-width="1.2"/>
<line x1="327.0" y1="414.9" x2="327.0" y2="418.5" stroke="#000" stroke-width="1.2"/>
<line x1="383.6" y1="414.9" x2="383.6" y2="418.5" stroke="#000" stroke-width="1.2"/>
<line x1="440.2" y1="414.9" x2="440.2" y2="418.5" stroke="#000" stroke-width="1.2"/>
<line x1="496.8" y1="414.9" x2="496.8" y2="418.5" stroke="#000" stroke-width="1.2"/>
<text x="327.0" y="431.3" font-size="12" text-anchor="middle" fill="#000">-9</text>
<text x="383.6" y="431.3" font-size="12" text-anchor="middle" fill="#000">-8</text>
<text x="440.2" y="431.3" font-size="12" text-anchor="middle" fill="#000">-7</text>
<text x="496.8" y="431.3" font-size="12" text-anchor="middle" fill="#000">-6</text>
<text x="384" y="441.2" font-size="11.6" text-anchor="start" fill="#000">PE [log M]</text>
<text x="281" y="346.5" font-size="11.6" text-anchor="middle" transform="rotate(-90 281 346.5)" fill="#000">% constriction</text>
<line x1="440.2" y1="375.6" x2="440.2" y2="380" stroke="#000" stroke-width="1"/>
<line x1="437.7" y1="380" x2="442.7" y2="380" stroke="#000" stroke-width="1"/>
<line x1="468.5" y1="361.2" x2="468.5" y2="367" stroke="#000" stroke-width="1"/>
<line x1="466.0" y1="367" x2="471.0" y2="367" stroke="#000" stroke-width="1"/>
<line x1="496.8" y1="354" x2="496.8" y2="360.6" stroke="#000" stroke-width="1"/>
<line x1="494.3" y1="360.6" x2="499.3" y2="360.6" stroke="#000" stroke-width="1"/>
<line x1="440.2" y1="367.8" x2="440.2" y2="360.5" stroke="#000" stroke-width="1"/>
<line x1="437.7" y1="360.5" x2="442.7" y2="360.5" stroke="#000" stroke-width="1"/>
<line x1="383.6" y1="396.6" x2="383.6" y2="392" stroke="#000" stroke-width="1"/>
<line x1="381.1" y1="392" x2="386.1" y2="392" stroke="#000" stroke-width="1"/>
<line x1="411.9" y1="382.2" x2="411.9" y2="376" stroke="#000" stroke-width="1"/>
<line x1="409.4" y1="376" x2="414.4" y2="376" stroke="#000" stroke-width="1"/>
<line x1="468.5" y1="353.4" x2="468.5" y2="348" stroke="#000" stroke-width="1"/>
<line x1="466.0" y1="348" x2="471.0" y2="348" stroke="#000" stroke-width="1"/>
<line x1="496.8" y1="345.6" x2="496.8" y2="340" stroke="#000" stroke-width="1"/>
<line x1="494.3" y1="340" x2="499.3" y2="340" stroke="#000" stroke-width="1"/>
<line x1="355.3" y1="400" x2="355.3" y2="395" stroke="#000" stroke-width="1"/>
<line x1="352.8" y1="395" x2="357.8" y2="395" stroke="#000" stroke-width="1"/>
<line x1="383.6" y1="383.6" x2="383.6" y2="377.3" stroke="#000" stroke-width="1"/>
<line x1="381.1" y1="377.3" x2="386.1" y2="377.3" stroke="#000" stroke-width="1"/>
<line x1="411.9" y1="360.6" x2="411.9" y2="355" stroke="#000" stroke-width="1"/>
<line x1="409.4" y1="355" x2="414.4" y2="355" stroke="#000" stroke-width="1"/>
<line x1="440.2" y1="346.2" x2="440.2" y2="341.8" stroke="#000" stroke-width="1"/>
<line x1="437.7" y1="341.8" x2="442.7" y2="341.8" stroke="#000" stroke-width="1"/>
<line x1="468.5" y1="335.2" x2="468.5" y2="329.7" stroke="#000" stroke-width="1"/>
<line x1="466.0" y1="329.7" x2="471.0" y2="329.7" stroke="#000" stroke-width="1"/>
<line x1="496.8" y1="327.4" x2="496.8" y2="319.6" stroke="#000" stroke-width="1"/>
<line x1="494.3" y1="319.6" x2="499.3" y2="319.6" stroke="#000" stroke-width="1"/>
<polyline points="327.00,403.97 328.43,403.95 329.85,403.93 331.28,403.91 332.71,403.88 334.13,403.86 335.56,403.83 336.99,403.80 338.42,403.77 339.84,403.73 341.27,403.70 342.70,403.66 344.12,403.62 345.55,403.57 346.98,403.53 348.40,403.48 349.83,403.42 351.26,403.37 352.68,403.31 354.11,403.24 355.54,403.17 356.96,403.10 358.39,403.02 359.82,402.93 361.25,402.84 362.67,402.75 364.10,402.64 365.53,402.54 366.95,402.42 368.38,402.30 369.81,402.16 371.23,402.02 372.66,401.87 374.09,401.71 375.51,401.55 376.94,401.37 378.37,401.17 379.79,400.97 381.22,400.76 382.65,400.53 384.08,400.29 385.50,400.03 386.93,399.76 388.36,399.47 389.78,399.17 391.21,398.85 392.64,398.51 394.06,398.15 395.49,397.77 396.92,397.38 398.34,396.96 399.77,396.52 401.20,396.06 402.63,395.58 404.05,395.08 405.48,394.55 406.91,394.00 408.33,393.43 409.76,392.83 411.19,392.21 412.61,391.57 414.04,390.90 415.47,390.21 416.89,389.50 418.32,388.76 419.75,388.01 421.17,387.23 422.60,386.44 424.03,385.63 425.46,384.80 426.88,383.95 428.31,383.10 429.74,382.23 431.16,381.35 432.59,380.46 434.02,379.57 435.44,378.67 436.87,377.77 438.30,376.87 439.72,375.98 441.15,375.08 442.58,374.20 444.01,373.32 445.43,372.45 446.86,371.59 448.29,370.75 449.71,369.92 451.14,369.11 452.57,368.32 453.99,367.54 455.42,366.79 456.85,366.05 458.27,365.34 459.70,364.65 461.13,363.98 462.55,363.34 463.98,362.72 465.41,362.12 466.84,361.55 468.26,361.00 469.69,360.47 471.12,359.97 472.54,359.49 473.97,359.03 475.40,358.59 476.82,358.17 478.25,357.77 479.68,357.40 481.10,357.04 482.53,356.70 483.96,356.38 485.38,356.08 486.81,355.79 488.24,355.52 489.67,355.26 491.09,355.02 492.52,354.79 493.95,354.58 495.37,354.37 496.80,354.18" fill="none" stroke="#000" stroke-width="1.2" stroke-linejoin="round"/>
<polyline points="327.00,404.04 328.43,404.02 329.85,404.00 331.28,403.98 332.71,403.96 334.13,403.93 335.56,403.91 336.99,403.88 338.42,403.85 339.84,403.82 341.27,403.78 342.70,403.74 344.12,403.70 345.55,403.66 346.98,403.61 348.40,403.56 349.83,403.50 351.26,403.44 352.68,403.38 354.11,403.31 355.54,403.23 356.96,403.15 358.39,403.06 359.82,402.96 361.25,402.86 362.67,402.75 364.10,402.63 365.53,402.50 366.95,402.36 368.38,402.21 369.81,402.05 371.23,401.88 372.66,401.69 374.09,401.49 375.51,401.28 376.94,401.05 378.37,400.80 379.79,400.53 381.22,400.25 382.65,399.95 384.08,399.63 385.50,399.28 386.93,398.91 388.36,398.52 389.78,398.10 391.21,397.66 392.64,397.19 394.06,396.69 395.49,396.16 396.92,395.61 398.34,395.02 399.77,394.40 401.20,393.75 402.63,393.07 404.05,392.35 405.48,391.60 406.91,390.83 408.33,390.02 409.76,389.18 411.19,388.31 412.61,387.41 414.04,386.49 415.47,385.54 416.89,384.57 418.32,383.58 419.75,382.58 421.17,381.55 422.60,380.52 424.03,379.48 425.46,378.43 426.88,377.38 428.31,376.33 429.74,375.28 431.16,374.24 432.59,373.22 434.02,372.20 435.44,371.21 436.87,370.23 438.30,369.27 439.72,368.34 441.15,367.43 442.58,366.55 444.01,365.70 445.43,364.87 446.86,364.08 448.29,363.32 449.71,362.60 451.14,361.90 452.57,361.23 453.99,360.60 455.42,360.00 456.85,359.43 458.27,358.89 459.70,358.38 461.13,357.90 462.55,357.44 463.98,357.02 465.41,356.61 466.84,356.24 468.26,355.88 469.69,355.55 471.12,355.24 472.54,354.95 473.97,354.67 475.40,354.42 476.82,354.18 478.25,353.96 479.68,353.76 481.10,353.56 482.53,353.39 483.96,353.22 485.38,353.07 486.81,352.92 488.24,352.79 489.67,352.67 491.09,352.55 492.52,352.44 493.95,352.35 495.37,352.25 496.80,352.17" fill="none" stroke="#000" stroke-width="1.2" stroke-linejoin="round"/>
<polyline points="327.00,403.33 328.43,403.27 329.85,403.21 331.28,403.15 332.71,403.08 334.13,403.01 335.56,402.94 336.99,402.86 338.42,402.78 339.84,402.69 341.27,402.60 342.70,402.50 344.12,402.40 345.55,402.29 346.98,402.18 348.40,402.06 349.83,401.93 351.26,401.79 352.68,401.65 354.11,401.50 355.54,401.34 356.96,401.17 358.39,400.99 359.82,400.80 361.25,400.61 362.67,400.40 364.10,400.18 365.53,399.95 366.95,399.71 368.38,399.46 369.81,399.19 371.23,398.91 372.66,398.61 374.09,398.30 375.51,397.98 376.94,397.64 378.37,397.28 379.79,396.91 381.22,396.52 382.65,396.11 384.08,395.68 385.50,395.24 386.93,394.78 388.36,394.29 389.78,393.79 391.21,393.27 392.64,392.73 394.06,392.17 395.49,391.58 396.92,390.98 398.34,390.35 399.77,389.71 401.20,389.04 402.63,388.36 404.05,387.65 405.48,386.93 406.91,386.19 408.33,385.43 409.76,384.65 411.19,383.85 412.61,383.04 414.04,382.21 415.47,381.37 416.89,380.52 418.32,379.65 419.75,378.78 421.17,377.90 422.60,377.00 424.03,376.11 425.46,375.21 426.88,374.30 428.31,373.40 429.74,372.49 431.16,371.59 432.59,370.69 434.02,369.79 435.44,368.90 436.87,368.02 438.30,367.15 439.72,366.29 441.15,365.44 442.58,364.61 444.01,363.79 445.43,362.98 446.86,362.19 448.29,361.42 449.71,360.66 451.14,359.93 452.57,359.21 453.99,358.51 455.42,357.83 456.85,357.18 458.27,356.54 459.70,355.92 461.13,355.32 462.55,354.75 463.98,354.19 465.41,353.66 466.84,353.14 468.26,352.65 469.69,352.17 471.12,351.72 472.54,351.28 473.97,350.86 475.40,350.46 476.82,350.07 478.25,349.71 479.68,349.36 481.10,349.02 482.53,348.70 483.96,348.40 485.38,348.11 486.81,347.83 488.24,347.57 489.67,347.32 491.09,347.08 492.52,346.86 493.95,346.64 495.37,346.44 496.80,346.25" fill="none" stroke="#000" stroke-width="1.2" stroke-linejoin="round"/>
<polyline points="327.00,402.01 328.43,401.87 329.85,401.72 331.28,401.57 332.71,401.40 334.13,401.23 335.56,401.05 336.99,400.85 338.42,400.65 339.84,400.43 341.27,400.20 342.70,399.96 344.12,399.70 345.55,399.43 346.98,399.14 348.40,398.84 349.83,398.53 351.26,398.19 352.68,397.84 354.11,397.47 355.54,397.08 356.96,396.67 358.39,396.24 359.82,395.79 361.25,395.31 362.67,394.82 364.10,394.30 365.53,393.75 366.95,393.18 368.38,392.59 369.81,391.97 371.23,391.32 372.66,390.65 374.09,389.95 375.51,389.22 376.94,388.46 378.37,387.68 379.79,386.87 381.22,386.03 382.65,385.16 384.08,384.27 385.50,383.35 386.93,382.41 388.36,381.44 389.78,380.44 391.21,379.42 392.64,378.39 394.06,377.33 395.49,376.25 396.92,375.15 398.34,374.04 399.77,372.91 401.20,371.77 402.63,370.63 404.05,369.47 405.48,368.31 406.91,367.14 408.33,365.97 409.76,364.81 411.19,363.64 412.61,362.48 414.04,361.33 415.47,360.19 416.89,359.05 418.32,357.94 419.75,356.83 421.17,355.75 422.60,354.68 424.03,353.63 425.46,352.60 426.88,351.60 428.31,350.62 429.74,349.66 431.16,348.73 432.59,347.83 434.02,346.95 435.44,346.10 436.87,345.27 438.30,344.48 439.72,343.71 441.15,342.97 442.58,342.26 444.01,341.57 445.43,340.91 446.86,340.28 448.29,339.67 449.71,339.09 451.14,338.54 452.57,338.01 453.99,337.50 455.42,337.01 456.85,336.55 458.27,336.11 459.70,335.69 461.13,335.30 462.55,334.92 463.98,334.56 465.41,334.21 466.84,333.89 468.26,333.58 469.69,333.29 471.12,333.01 472.54,332.75 473.97,332.50 475.40,332.26 476.82,332.04 478.25,331.83 479.68,331.63 481.10,331.44 482.53,331.27 483.96,331.10 485.38,330.94 486.81,330.79 488.24,330.65 489.67,330.51 491.09,330.39 492.52,330.27 493.95,330.16 495.37,330.05 496.80,329.95" fill="none" stroke="#000" stroke-width="1.2" stroke-linejoin="round"/>
<path d="M327.00,401.35 L329.90,406.85 L324.10,406.85 Z" fill="#fff" stroke="#000" stroke-width="1"/>
<path d="M355.30,401.10 L358.20,406.60 L352.40,406.60 Z" fill="#fff" stroke="#000" stroke-width="1"/>
<path d="M383.60,397.50 L386.50,403.00 L380.70,403.00 Z" fill="#fff" stroke="#000" stroke-width="1"/>
<path d="M411.90,388.80 L414.80,394.30 L409.00,394.30 Z" fill="#fff" stroke="#000" stroke-width="1"/>
<path d="M440.20,372.70 L443.10,378.20 L437.30,378.20 Z" fill="#fff" stroke="#000" stroke-width="1"/>
<path d="M468.50,358.30 L471.40,363.80 L465.60,363.80 Z" fill="#fff" stroke="#000" stroke-width="1"/>
<path d="M496.80,351.10 L499.70,356.60 L493.90,356.60 Z" fill="#fff" stroke="#000" stroke-width="1"/>
<rect x="324.10" y="401.35" width="5.80" height="5.80" fill="#000"/>
<rect x="352.40" y="400.85" width="5.80" height="5.80" fill="#000"/>
<rect x="380.70" y="396.60" width="5.80" height="5.80" fill="#000"/>
<rect x="409.00" y="385.10" width="5.80" height="5.80" fill="#000"/>
<rect x="437.30" y="364.90" width="5.80" height="5.80" fill="#000"/>
<rect x="465.60" y="353.35" width="5.80" height="5.80" fill="#000"/>
<rect x="493.90" y="349.00" width="5.80" height="5.80" fill="#000"/>
<circle cx="327.00" cy="404.25" r="2.70" fill="#fff" stroke="#000" stroke-width="1"/>
<circle cx="355.30" cy="402.00" r="2.70" fill="#fff" stroke="#000" stroke-width="1"/>
<circle cx="383.60" cy="396.60" r="2.70" fill="#fff" stroke="#000" stroke-width="1"/>
<circle cx="411.90" cy="382.20" r="2.70" fill="#fff" stroke="#000" stroke-width="1"/>
<circle cx="440.20" cy="366.30" r="2.70" fill="#fff" stroke="#000" stroke-width="1"/>
<circle cx="468.50" cy="353.40" r="2.70" fill="#fff" stroke="#000" stroke-width="1"/>
<circle cx="496.80" cy="345.60" r="2.70" fill="#fff" stroke="#000" stroke-width="1"/>
<path d="M327.00,400.95 L330.30,407.15 L323.70,407.15 Z" fill="#000"/>
<path d="M355.30,396.70 L358.60,402.90 L352.00,402.90 Z" fill="#000"/>
<path d="M383.60,380.30 L386.90,386.50 L380.30,386.50 Z" fill="#000"/>
<path d="M411.90,357.30 L415.20,363.50 L408.60,363.50 Z" fill="#000"/>
<path d="M440.20,342.90 L443.50,349.10 L436.90,349.10 Z" fill="#000"/>
<path d="M468.50,331.90 L471.80,338.10 L465.20,338.10 Z" fill="#000"/>
<path d="M496.80,324.10 L500.10,330.30 L493.50,330.30 Z" fill="#000"/>
<path d="M501.5,327.4 H504.1 V351.3 H501.5" fill="none" stroke="#000" stroke-width="1"/>
<circle cx="507.9" cy="340.4" r="1.3" fill="#000"/>
<text x="49.5" y="605" font-size="25.5" text-anchor="start" font-weight="bold" fill="#000">E</text>
<line x1="47" y1="602" x2="47" y2="691" stroke="#000" stroke-width="1.2"/>
<line x1="43" y1="602.25" x2="47" y2="602.25" stroke="#000" stroke-width="1.2"/>
<line x1="43" y1="617.0416666666666" x2="47" y2="617.0416666666666" stroke="#000" stroke-width="1.2"/>
<line x1="43" y1="631.8333333333334" x2="47" y2="631.8333333333334" stroke="#000" stroke-width="1.2"/>
<line x1="43" y1="646.625" x2="47" y2="646.625" stroke="#000" stroke-width="1.2"/>
<line x1="43" y1="661.4166666666666" x2="47" y2="661.4166666666666" stroke="#000" stroke-width="1.2"/>
<line x1="43" y1="676.2083333333334" x2="47" y2="676.2083333333334" stroke="#000" stroke-width="1.2"/>
<line x1="43" y1="691.0" x2="47" y2="691.0" stroke="#000" stroke-width="1.2"/>
<text x="40" y="607.85" font-size="11.2" text-anchor="end" fill="#000">300</text>
<text x="40" y="637.35" font-size="11.2" text-anchor="end" fill="#000">200</text>
<text x="40" y="666.85" font-size="11.2" text-anchor="end" fill="#000">100</text>
<text x="38.0" y="697.1" font-size="11.2" text-anchor="end" fill="#000">0</text>
<line x1="59.9" y1="701.75" x2="236.9" y2="701.75" stroke="#000" stroke-width="1.2"/>
<line x1="60.5" y1="701.15" x2="60.5" y2="704.75" stroke="#000" stroke-width="1.2"/>
<line x1="117.4" y1="701.15" x2="117.4" y2="704.75" stroke="#000" stroke-width="1.2"/>
<line x1="174.3" y1="701.15" x2="174.3" y2="704.75" stroke="#000" stroke-width="1.2"/>
<line x1="231.2" y1="701.15" x2="231.2" y2="704.75" stroke="#000" stroke-width="1.2"/>
<text x="60.5" y="718.3" font-size="12" text-anchor="middle" fill="#000">-9</text>
<text x="117.4" y="718.3" font-size="12" text-anchor="middle" fill="#000">-8</text>
<text x="174.3" y="718.3" font-size="12" text-anchor="middle" fill="#000">-7</text>
<text x="231.2" y="718.3" font-size="12" text-anchor="middle" fill="#000">-6</text>
<text x="125" y="728.2" font-size="11.6" text-anchor="start" fill="#000">PE [log M]</text>
<text x="15.4" y="633.2" font-size="11.6" text-anchor="middle" transform="rotate(-90 15.4 633.2)" fill="#000">% constriction</text>
<line x1="145.85" y1="681.7" x2="145.85" y2="678" stroke="#000" stroke-width="1"/>
<line x1="143.35" y1="678" x2="148.35" y2="678" stroke="#000" stroke-width="1"/>
<line x1="174.3" y1="669.3" x2="174.3" y2="665" stroke="#000" stroke-width="1"/>
<line x1="171.8" y1="665" x2="176.8" y2="665" stroke="#000" stroke-width="1"/>
<line x1="202.75" y1="659.2" x2="202.75" y2="651.2" stroke="#000" stroke-width="1"/>
<line x1="200.25" y1="651.2" x2="205.25" y2="651.2" stroke="#000" stroke-width="1"/>
<line x1="231.2" y1="649.1" x2="231.2" y2="639.6" stroke="#000" stroke-width="1"/>
<line x1="228.7" y1="639.6" x2="233.7" y2="639.6" stroke="#000" stroke-width="1"/>
<line x1="117.4" y1="679.4" x2="117.4" y2="675.5" stroke="#000" stroke-width="1"/>
<line x1="114.9" y1="675.5" x2="119.9" y2="675.5" stroke="#000" stroke-width="1"/>
<line x1="174.3" y1="641.9" x2="174.3" y2="636.2" stroke="#000" stroke-width="1"/>
<line x1="171.8" y1="636.2" x2="176.8" y2="636.2" stroke="#000" stroke-width="1"/>
<line x1="202.75" y1="629.5" x2="202.75" y2="624" stroke="#000" stroke-width="1"/>
<line x1="200.25" y1="624" x2="205.25" y2="624" stroke="#000" stroke-width="1"/>
<line x1="231.2" y1="620.3" x2="231.2" y2="614.5" stroke="#000" stroke-width="1"/>
<line x1="228.7" y1="614.5" x2="233.7" y2="614.5" stroke="#000" stroke-width="1"/>
<polyline points="60.50,690.86 61.93,690.85 63.37,690.84 64.80,690.83 66.24,690.82 67.67,690.81 69.11,690.80 70.54,690.78 71.98,690.77 73.41,690.75 74.84,690.74 76.28,690.72 77.71,690.70 79.15,690.68 80.58,690.66 82.02,690.63 83.45,690.61 84.89,690.58 86.32,690.56 87.75,690.53 89.19,690.49 90.62,690.46 92.06,690.42 93.49,690.38 94.93,690.34 96.36,690.30 97.80,690.25 99.23,690.20 100.66,690.15 102.10,690.09 103.53,690.03 104.97,689.97 106.40,689.90 107.84,689.83 109.27,689.75 110.71,689.67 112.14,689.59 113.57,689.49 115.01,689.40 116.44,689.29 117.88,689.19 119.31,689.07 120.75,688.95 122.18,688.82 123.62,688.68 125.05,688.54 126.48,688.39 127.92,688.23 129.35,688.06 130.79,687.89 132.22,687.70 133.66,687.51 135.09,687.30 136.53,687.09 137.96,686.87 139.39,686.63 140.83,686.39 142.26,686.14 143.70,685.87 145.13,685.60 146.57,685.31 148.00,685.02 149.44,684.71 150.87,684.40 152.31,684.07 153.74,683.74 155.17,683.39 156.61,683.04 158.04,682.68 159.48,682.31 160.91,681.94 162.35,681.56 163.78,681.17 165.22,680.78 166.65,680.38 168.08,679.98 169.52,679.58 170.95,679.18 172.39,678.77 173.82,678.37 175.26,677.96 176.69,677.56 178.13,677.16 179.56,676.77 180.99,676.38 182.43,675.99 183.86,675.61 185.30,675.24 186.73,674.88 188.17,674.52 189.60,674.17 191.04,673.83 192.47,673.50 193.90,673.18 195.34,672.87 196.77,672.57 198.21,672.27 199.64,671.99 201.08,671.72 202.51,671.46 203.95,671.21 205.38,670.97 206.81,670.74 208.25,670.52 209.68,670.31 211.12,670.11 212.55,669.92 213.99,669.74 215.42,669.57 216.86,669.40 218.29,669.25 219.72,669.10 221.16,668.96 222.59,668.83 224.03,668.70 225.46,668.58 226.90,668.47 228.33,668.36 229.77,668.26 231.20,668.17" fill="none" stroke="#000" stroke-width="1.2" stroke-linejoin="round"/>
<polyline points="60.50,690.80 61.93,690.79 63.37,690.77 64.80,690.76 66.24,690.74 67.67,690.73 69.11,690.71 70.54,690.69 71.98,690.67 73.41,690.65 74.84,690.63 76.28,690.60 77.71,690.58 79.15,690.55 80.58,690.52 82.02,690.49 83.45,690.46 84.89,690.42 86.32,690.39 87.75,690.35 89.19,690.31 90.62,690.27 92.06,690.22 93.49,690.17 94.93,690.12 96.36,690.06 97.80,690.01 99.23,689.94 100.66,689.88 102.10,689.81 103.53,689.74 104.97,689.66 106.40,689.58 107.84,689.49 109.27,689.40 110.71,689.30 112.14,689.20 113.57,689.09 115.01,688.98 116.44,688.86 117.88,688.73 119.31,688.60 120.75,688.46 122.18,688.31 123.62,688.16 125.05,688.00 126.48,687.82 127.92,687.65 129.35,687.46 130.79,687.26 132.22,687.06 133.66,686.84 135.09,686.62 136.53,686.39 137.96,686.15 139.39,685.90 140.83,685.63 142.26,685.36 143.70,685.08 145.13,684.79 146.57,684.49 148.00,684.18 149.44,683.86 150.87,683.54 152.31,683.20 153.74,682.85 155.17,682.50 156.61,682.14 158.04,681.77 159.48,681.40 160.91,681.02 162.35,680.63 163.78,680.24 165.22,679.85 166.65,679.45 168.08,679.05 169.52,678.64 170.95,678.24 172.39,677.84 173.82,677.43 175.26,677.03 176.69,676.63 178.13,676.23 179.56,675.84 180.99,675.45 182.43,675.07 183.86,674.69 185.30,674.32 186.73,673.95 188.17,673.59 189.60,673.24 191.04,672.90 192.47,672.57 193.90,672.24 195.34,671.93 196.77,671.62 198.21,671.33 199.64,671.04 201.08,670.76 202.51,670.49 203.95,670.24 205.38,669.99 206.81,669.75 208.25,669.52 209.68,669.30 211.12,669.09 212.55,668.89 213.99,668.70 215.42,668.51 216.86,668.34 218.29,668.17 219.72,668.01 221.16,667.86 222.59,667.71 224.03,667.57 225.46,667.44 226.90,667.32 228.33,667.20 229.77,667.09 231.20,666.99" fill="none" stroke="#000" stroke-width="1.2" stroke-linejoin="round"/>
<polyline points="60.50,690.67 61.93,690.65 63.37,690.63 64.80,690.61 66.24,690.59 67.67,690.56 69.11,690.54 70.54,690.51 71.98,690.48 73.41,690.45 74.84,690.41 76.28,690.38 77.71,690.34 79.15,690.30 80.58,690.26 82.02,690.21 83.45,690.17 84.89,690.12 86.32,690.06 87.75,690.01 89.19,689.95 90.62,689.88 92.06,689.82 93.49,689.75 94.93,689.67 96.36,689.59 97.80,689.51 99.23,689.42 100.66,689.33 102.10,689.23 103.53,689.12 104.97,689.01 106.40,688.90 107.84,688.78 109.27,688.65 110.71,688.51 112.14,688.36 113.57,688.21 115.01,688.05 116.44,687.88 117.88,687.71 119.31,687.52 120.75,687.32 122.18,687.12 123.62,686.90 125.05,686.67 126.48,686.43 127.92,686.18 129.35,685.92 130.79,685.64 132.22,685.35 133.66,685.05 135.09,684.74 136.53,684.41 137.96,684.07 139.39,683.71 140.83,683.33 142.26,682.95 143.70,682.54 145.13,682.12 146.57,681.69 148.00,681.24 149.44,680.77 150.87,680.29 152.31,679.79 153.74,679.28 155.17,678.75 156.61,678.21 158.04,677.65 159.48,677.08 160.91,676.50 162.35,675.90 163.78,675.29 165.22,674.67 166.65,674.03 168.08,673.39 169.52,672.74 170.95,672.08 172.39,671.41 173.82,670.74 175.26,670.06 176.69,669.38 178.13,668.69 179.56,668.01 180.99,667.32 182.43,666.64 183.86,665.95 185.30,665.28 186.73,664.60 188.17,663.93 189.60,663.27 191.04,662.62 192.47,661.98 193.90,661.34 195.34,660.72 196.77,660.11 198.21,659.51 199.64,658.92 201.08,658.35 202.51,657.79 203.95,657.24 205.38,656.71 206.81,656.20 208.25,655.70 209.68,655.22 211.12,654.75 212.55,654.30 213.99,653.86 215.42,653.44 216.86,653.03 218.29,652.64 219.72,652.27 221.16,651.91 222.59,651.56 224.03,651.23 225.46,650.92 226.90,650.61 228.33,650.32 229.77,650.05 231.20,649.78" fill="none" stroke="#000" stroke-width="1.2" stroke-linejoin="round"/>
<polyline points="60.50,690.08 61.93,690.02 63.37,689.96 64.80,689.89 66.24,689.82 67.67,689.74 69.11,689.66 70.54,689.58 71.98,689.49 73.41,689.39 74.84,689.29 76.28,689.18 77.71,689.07 79.15,688.95 80.58,688.82 82.02,688.68 83.45,688.54 84.89,688.38 86.32,688.22 87.75,688.05 89.19,687.87 90.62,687.67 92.06,687.47 93.49,687.25 94.93,687.02 96.36,686.78 97.80,686.52 99.23,686.25 100.66,685.97 102.10,685.67 103.53,685.35 104.97,685.01 106.40,684.66 107.84,684.29 109.27,683.89 110.71,683.48 112.14,683.05 113.57,682.59 115.01,682.12 116.44,681.61 117.88,681.09 119.31,680.54 120.75,679.97 122.18,679.37 123.62,678.74 125.05,678.09 126.48,677.41 127.92,676.70 129.35,675.97 130.79,675.20 132.22,674.41 133.66,673.60 135.09,672.75 136.53,671.88 137.96,670.98 139.39,670.06 140.83,669.11 142.26,668.14 143.70,667.14 145.13,666.13 146.57,665.09 148.00,664.03 149.44,662.96 150.87,661.86 152.31,660.76 153.74,659.64 155.17,658.52 156.61,657.38 158.04,656.24 159.48,655.10 160.91,653.96 162.35,652.81 163.78,651.67 165.22,650.54 166.65,649.41 168.08,648.29 169.52,647.19 170.95,646.09 172.39,645.02 173.82,643.96 175.26,642.92 176.69,641.90 178.13,640.90 179.56,639.92 180.99,638.97 182.43,638.05 183.86,637.15 185.30,636.27 186.73,635.42 188.17,634.60 189.60,633.81 191.04,633.05 192.47,632.31 193.90,631.60 195.34,630.92 196.77,630.26 198.21,629.63 199.64,629.03 201.08,628.45 202.51,627.90 203.95,627.37 205.38,626.87 206.81,626.39 208.25,625.93 209.68,625.50 211.12,625.08 212.55,624.69 213.99,624.31 215.42,623.96 216.86,623.62 218.29,623.30 219.72,623.00 221.16,622.71 222.59,622.44 224.03,622.18 225.46,621.93 226.90,621.70 228.33,621.49 229.77,621.28 231.20,621.08" fill="none" stroke="#000" stroke-width="1.2" stroke-linejoin="round"/>
<rect x="57.60" y="688.10" width="5.80" height="5.80" fill="#000"/>
<rect x="86.05" y="687.70" width="5.80" height="5.80" fill="#000"/>
<rect x="114.50" y="687.10" width="5.80" height="5.80" fill="#000"/>
<rect x="142.95" y="682.50" width="5.80" height="5.80" fill="#000"/>
<rect x="171.40" y="674.60" width="5.80" height="5.80" fill="#000"/>
<rect x="199.85" y="669.60" width="5.80" height="5.80" fill="#000"/>
<rect x="228.30" y="664.70" width="5.80" height="5.80" fill="#000"/>
<rect x="57.60" y="688.10" width="5.80" height="5.80" fill="#000"/>
<rect x="86.05" y="687.40" width="5.80" height="5.80" fill="#000"/>
<rect x="114.50" y="686.60" width="5.80" height="5.80" fill="#000"/>
<rect x="142.95" y="681.70" width="5.80" height="5.80" fill="#000"/>
<rect x="171.40" y="673.60" width="5.80" height="5.80" fill="#000"/>
<rect x="199.85" y="668.70" width="5.80" height="5.80" fill="#000"/>
<rect x="228.30" y="663.50" width="5.80" height="5.80" fill="#000"/>
<circle cx="60.50" cy="691.00" r="2.70" fill="#fff" stroke="#000" stroke-width="1"/>
<circle cx="88.95" cy="690.50" r="2.70" fill="#fff" stroke="#000" stroke-width="1"/>
<circle cx="117.40" cy="689.00" r="2.70" fill="#fff" stroke="#000" stroke-width="1"/>
<circle cx="145.85" cy="681.70" r="2.70" fill="#fff" stroke="#000" stroke-width="1"/>
<circle cx="174.30" cy="669.30" r="2.70" fill="#fff" stroke="#000" stroke-width="1"/>
<circle cx="202.75" cy="659.20" r="2.70" fill="#fff" stroke="#000" stroke-width="1"/>
<circle cx="231.20" cy="649.10" r="2.70" fill="#fff" stroke="#000" stroke-width="1"/>
<path d="M60.50,687.70 L63.80,693.90 L57.20,693.90 Z" fill="#000"/>
<path d="M88.95,685.70 L92.25,691.90 L85.65,691.90 Z" fill="#000"/>
<path d="M117.40,676.10 L120.70,682.30 L114.10,682.30 Z" fill="#000"/>
<path d="M145.85,664.00 L149.15,670.20 L142.55,670.20 Z" fill="#000"/>
<path d="M174.30,638.60 L177.60,644.80 L171.00,644.80 Z" fill="#000"/>
<path d="M202.75,626.20 L206.05,632.40 L199.45,632.40 Z" fill="#000"/>
<path d="M231.20,617.00 L234.50,623.20 L227.90,623.20 Z" fill="#000"/>
<rect x="57.60" y="688.10" width="5.80" height="5.80" fill="#000"/>
<rect x="86.05" y="687.70" width="5.80" height="5.80" fill="#000"/>
<rect x="57.60" y="688.10" width="5.80" height="5.80" fill="#000"/>
<rect x="86.05" y="687.40" width="5.80" height="5.80" fill="#000"/>
<path d="M235.8,620.3 H238.6 V667.3 H235.8" fill="none" stroke="#000" stroke-width="1"/>
<text x="240.0" y="651.8" font-size="11.5" text-anchor="start" fill="#000">«</text>
<text x="291.8" y="591" font-size="25.5" text-anchor="start" font-weight="bold" fill="#000">J</text>
<line x1="311.75" y1="598.75" x2="311.75" y2="688.5" stroke="#000" stroke-width="1.2"/>
<line x1="307.75" y1="600.0" x2="311.75" y2="600.0" stroke="#000" stroke-width="1.2"/>
<line x1="307.75" y1="614.75" x2="311.75" y2="614.75" stroke="#000" stroke-width="1.2"/>
<line x1="307.75" y1="629.5" x2="311.75" y2="629.5" stroke="#000" stroke-width="1.2"/>
<line x1="307.75" y1="644.25" x2="311.75" y2="644.25" stroke="#000" stroke-width="1.2"/>
<line x1="307.75" y1="659.0" x2="311.75" y2="659.0" stroke="#000" stroke-width="1.2"/>
<line x1="307.75" y1="673.75" x2="311.75" y2="673.75" stroke="#000" stroke-width="1.2"/>
<line x1="307.75" y1="688.5" x2="311.75" y2="688.5" stroke="#000" stroke-width="1.2"/>
<text x="309.8" y="605.6" font-size="11.6" text-anchor="end" fill="#000">300</text>
<text x="309.8" y="634.85" font-size="11.6" text-anchor="end" fill="#000">200</text>
<text x="309.8" y="664.1" font-size="11.6" text-anchor="end" fill="#000">100</text>
<text x="307.0" y="694.6" font-size="11.6" text-anchor="end" fill="#000">0</text>
<line x1="326.25" y1="700.5" x2="504.1" y2="700.5" stroke="#000" stroke-width="1.2"/>
<line x1="329.5" y1="700.5" x2="329.5" y2="703.5" stroke="#000" stroke-width="1.2"/>
<line x1="372.4" y1="700.5" x2="372.4" y2="703.5" stroke="#000" stroke-width="1.2"/>
<line x1="415.3" y1="700.5" x2="415.3" y2="703.5" stroke="#000" stroke-width="1.2"/>
<line x1="458.2" y1="700.5" x2="458.2" y2="703.5" stroke="#000" stroke-width="1.2"/>
<line x1="501.1" y1="700.5" x2="501.1" y2="703.5" stroke="#000" stroke-width="1.2"/>
<text x="330.0" y="717.3" font-size="12" text-anchor="middle" fill="#000">-9</text>
<text x="372.9" y="717.3" font-size="12" text-anchor="middle" fill="#000">-8</text>
<text x="415.8" y="717.3" font-size="12" text-anchor="middle" fill="#000">-7</text>
<text x="458.7" y="717.3" font-size="12" text-anchor="middle" fill="#000">-6</text>
<text x="501.6" y="717.3" font-size="12" text-anchor="middle" fill="#000">-5</text>
<text x="393" y="732.8" font-size="11.6" text-anchor="start" fill="#000">PE [log M]</text>
<text x="284.6" y="647.7" font-size="11.7" text-anchor="middle" transform="rotate(-90 284.6 647.7)" fill="#000">% constriction</text>
<polyline points="329.50,689.38 330.94,689.38 332.38,689.37 333.83,689.36 335.27,689.34 336.71,689.33 338.15,689.32 339.59,689.31 341.04,689.29 342.48,689.28 343.92,689.26 345.36,689.24 346.80,689.22 348.25,689.20 349.69,689.18 351.13,689.15 352.57,689.13 354.01,689.10 355.46,689.07 356.90,689.03 358.34,689.00 359.78,688.96 361.22,688.92 362.67,688.88 364.11,688.83 365.55,688.78 366.99,688.73 368.43,688.67 369.88,688.61 371.32,688.54 372.76,688.47 374.20,688.40 375.64,688.32 377.09,688.23 378.53,688.14 379.97,688.04 381.41,687.94 382.85,687.83 384.30,687.71 385.74,687.58 387.18,687.45 388.62,687.31 390.06,687.16 391.51,687.00 392.95,686.83 394.39,686.65 395.83,686.46 397.27,686.26 398.72,686.05 400.16,685.82 401.60,685.59 403.04,685.35 404.48,685.09 405.93,684.82 407.37,684.54 408.81,684.25 410.25,683.95 411.69,683.64 413.14,683.31 414.58,682.98 416.02,682.63 417.46,682.27 418.91,681.91 420.35,681.54 421.79,681.15 423.23,680.77 424.67,680.37 426.12,679.97 427.56,679.57 429.00,679.16 430.44,678.75 431.88,678.35 433.33,677.94 434.77,677.53 436.21,677.12 437.65,676.72 439.09,676.33 440.54,675.94 441.98,675.55 443.42,675.18 444.86,674.81 446.30,674.45 447.75,674.10 449.19,673.76 450.63,673.43 452.07,673.11 453.51,672.81 454.96,672.51 456.40,672.23 457.84,671.95 459.28,671.69 460.72,671.44 462.17,671.21 463.61,670.98 465.05,670.77 466.49,670.56 467.93,670.37 469.38,670.19 470.82,670.01 472.26,669.85 473.70,669.70 475.14,669.55 476.59,669.41 478.03,669.28 479.47,669.16 480.91,669.05 482.35,668.94 483.80,668.84 485.24,668.75 486.68,668.66 488.12,668.58 489.56,668.50 491.01,668.43 492.45,668.36 493.89,668.30 495.33,668.24 496.77,668.18 498.22,668.13 499.66,668.09 501.10,668.04" fill="none" stroke="#000" stroke-width="1.2" stroke-linejoin="round"/>
<polyline points="329.50,689.44 330.94,689.44 332.38,689.44 333.83,689.43 335.27,689.43 336.71,689.42 338.15,689.42 339.59,689.41 341.04,689.41 342.48,689.40 343.92,689.39 345.36,689.39 346.80,689.38 348.25,689.37 349.69,689.37 351.13,689.36 352.57,689.35 354.01,689.34 355.46,689.33 356.90,689.32 358.34,689.31 359.78,689.29 361.22,689.28 362.67,689.27 364.11,689.25 365.55,689.24 366.99,689.22 368.43,689.20 369.88,689.18 371.32,689.16 372.76,689.14 374.20,689.12 375.64,689.10 377.09,689.07 378.53,689.05 379.97,689.02 381.41,688.99 382.85,688.96 384.30,688.93 385.74,688.89 387.18,688.85 388.62,688.82 390.06,688.77 391.51,688.73 392.95,688.69 394.39,688.64 395.83,688.59 397.27,688.54 398.72,688.48 400.16,688.42 401.60,688.36 403.04,688.30 404.48,688.23 405.93,688.16 407.37,688.09 408.81,688.01 410.25,687.93 411.69,687.85 413.14,687.76 414.58,687.67 416.02,687.57 417.46,687.48 418.91,687.37 420.35,687.27 421.79,687.16 423.23,687.05 424.67,686.93 426.12,686.82 427.56,686.69 429.00,686.57 430.44,686.44 431.88,686.31 433.33,686.18 434.77,686.04 436.21,685.90 437.65,685.76 439.09,685.62 440.54,685.47 441.98,685.33 443.42,685.18 444.86,685.03 446.30,684.88 447.75,684.73 449.19,684.59 450.63,684.44 452.07,684.29 453.51,684.14 454.96,684.00 456.40,683.85 457.84,683.71 459.28,683.57 460.72,683.43 462.17,683.29 463.61,683.16 465.05,683.03 466.49,682.90 467.93,682.78 469.38,682.65 470.82,682.53 472.26,682.42 473.70,682.31 475.14,682.20 476.59,682.09 478.03,681.99 479.47,681.90 480.91,681.80 482.35,681.71 483.80,681.62 485.24,681.54 486.68,681.46 488.12,681.38 489.56,681.31 491.01,681.24 492.45,681.17 493.89,681.11 495.33,681.05 496.77,680.99 498.22,680.93 499.66,680.88 501.10,680.83" fill="none" stroke="#000" stroke-width="1.2" stroke-linejoin="round"/>
<rect x="326.80" y="686.80" width="5.40" height="5.40" fill="#000"/>
<rect x="348.25" y="686.80" width="5.40" height="5.40" fill="#000"/>
<rect x="369.70" y="686.50" width="5.40" height="5.40" fill="#000"/>
<rect x="391.15" y="686.10" width="5.40" height="5.40" fill="#000"/>
<path d="M415.30,684.10 L418.40,678.30 L412.20,678.30 Z" fill="#000"/>
<path d="M415.30,685.10 L417.90,690.00 L412.70,690.00 Z" fill="#fff" stroke="#000" stroke-width="1"/>
<path d="M436.75,679.80 L439.85,674.00 L433.65,674.00 Z" fill="#000"/>
<path d="M436.75,683.10 L439.35,688.00 L434.15,688.00 Z" fill="#fff" stroke="#000" stroke-width="1"/>
<path d="M458.20,675.80 L461.30,670.00 L455.10,670.00 Z" fill="#000"/>
<path d="M458.20,680.80 L460.80,685.70 L455.60,685.70 Z" fill="#fff" stroke="#000" stroke-width="1"/>
<path d="M479.65,673.50 L482.75,667.70 L476.55,667.70 Z" fill="#000"/>
<path d="M479.65,679.90 L482.25,684.80 L477.05,684.80 Z" fill="#fff" stroke="#000" stroke-width="1"/>
<path d="M501.10,669.70 L504.20,663.90 L498.00,663.90 Z" fill="#000"/>
<path d="M501.10,677.90 L503.70,682.80 L498.50,682.80 Z" fill="#fff" stroke="#000" stroke-width="1"/>
<text x="293.4" y="458.8" font-size="26.6" text-anchor="start" font-weight="bold" fill="#000">I</text>
<line x1="312.7" y1="458.75" x2="312.7" y2="576.5" stroke="#000" stroke-width="1.3"/>
<line x1="312.5" y1="554.5" x2="520" y2="554.5" stroke="#000" stroke-width="1.2"/>
<text x="311.5" y="482.8" font-size="11.8" text-anchor="end" fill="#000">40</text>
<text x="311.5" y="523.5" font-size="11.8" text-anchor="end" fill="#000">20</text>
<text x="309.3" y="564.5" font-size="11.8" text-anchor="end" fill="#000">0</text>
<text x="290.2" y="508.4" font-size="11.7" text-anchor="middle" transform="rotate(-90 290.2 508.4)" fill="#000">% constriction</text>
<rect x="336.25" y="554.5" width="21.25" height="2.3" fill="#000"/>
<rect x="382" y="547.3" width="22" height="7.2" fill="#000"/>
<line x1="393" y1="547.3" x2="393" y2="544.4" stroke="#000" stroke-width="1"/>
<line x1="390.5" y1="544.4" x2="395.5" y2="544.4" stroke="#000" stroke-width="1"/>
<rect x="432" y="554.5" width="21" height="4.3" fill="#000"/>
<line x1="442.5" y1="558.8" x2="442.5" y2="562.9" stroke="#000" stroke-width="1"/>
<line x1="440.0" y1="562.9" x2="445.0" y2="562.9" stroke="#000" stroke-width="1"/>
<rect x="479.5" y="472.3" width="20.8" height="82.2" fill="#000"/>
<line x1="489.9" y1="472.3" x2="489.9" y2="462.3" stroke="#000" stroke-width="1"/>
<line x1="485.9" y1="462.3" x2="493.9" y2="462.3" stroke="#000" stroke-width="1"/>
<text x="346" y="572.85" font-size="11.4" text-anchor="middle" fill="#000">control</text>
<text x="394.3" y="571.1" font-size="11.4" text-anchor="middle" fill="#000">SMTC</text>
<text x="441.5" y="574.1" font-size="11.4" text-anchor="middle" fill="#000">cele</text>
<text x="489.7" y="573.6" font-size="11.4" text-anchor="middle" fill="#000">SMTC</text>
<text x="491.5" y="587.5" font-size="11.4" text-anchor="middle" fill="#000">cele</text>
<rect x="342.3" y="458.5" width="106.2" height="56.3" fill="#fff" stroke="#000" stroke-width="1"/>
<text x="342.4" y="476.6" font-size="8.4" text-anchor="end" fill="#000">4.5</text>
<text x="342.4" y="499.7" font-size="8.4" text-anchor="end" fill="#000">3.5</text>
<text x="342.4" y="523.8" font-size="8.4" text-anchor="end" fill="#000">2.5</text>
<text x="344.2" y="525.3" font-size="8.6" text-anchor="middle" fill="#000">0</text>
<text x="370.2" y="525.3" font-size="8.6" text-anchor="middle" fill="#000">4</text>
<text x="396.5" y="525.3" font-size="8.6" text-anchor="middle" fill="#000">8</text>
<text x="422.8" y="525.3" font-size="8.6" text-anchor="middle" fill="#000">12</text>
<text x="449.8" y="525.3" font-size="8.6" text-anchor="middle" fill="#000">16</text>
<text x="379.6" y="532.6" font-size="8.2" text-anchor="start" fill="#000">Time (mins)</text>
<text x="329.6" y="482.3" font-size="8.1" text-anchor="middle" transform="rotate(-90 329.6 482.3)" fill="#000">Tone (mN)</text>
<polyline points="342.50,504.40 344.50,501.50 346.50,496.00 348.70,490.30 351.00,484.00 353.00,478.80 355.20,475.50 357.40,473.00 359.50,471.50 361.70,470.70 363.30,470.69 364.90,471.05 366.50,470.84 368.10,471.12 369.70,471.15 371.30,470.48 372.90,470.42 374.50,471.40 376.10,470.71 377.70,470.68 379.30,471.59 380.90,470.96 382.50,471.40 384.10,470.97 385.70,471.17 387.30,470.58 388.90,471.16 390.50,471.44 392.10,471.03 393.70,471.29 395.30,471.21 396.90,470.48 398.50,471.31 400.10,471.11 401.70,470.76 403.30,470.44 404.90,471.44 406.50,470.97 408.10,471.26 409.70,471.45 411.30,471.26 412.90,473.51 414.50,472.87 416.10,471.36 417.70,470.93 419.30,471.52 420.90,471.45 422.50,470.52 424.10,470.56 425.70,471.16 427.30,472.06 428.90,471.42 430.50,471.65 432.10,471.26 433.70,471.51 435.30,471.36 436.90,471.32" fill="none" stroke="#000" stroke-width="1.3" stroke-linejoin="round"/>
<polyline points="342.50,503.64 344.50,503.64 346.50,503.80 348.50,503.69 350.50,503.81 352.50,503.78 354.50,503.85 356.50,503.69 358.50,503.43 360.50,503.78 362.50,503.83 364.50,503.80 366.50,503.63 368.50,503.71 370.50,503.46 372.50,503.77 374.50,503.64 376.50,503.49 378.50,503.38 380.50,503.78 382.50,503.84 384.50,503.39 386.50,503.75 388.50,503.56 390.50,503.43 392.50,503.50 394.50,503.73 396.50,503.79 398.50,503.37 400.50,503.66 402.50,503.37 404.50,503.71 406.50,503.52 408.50,503.79 410.50,503.84 412.50,503.60 414.50,503.85 416.50,503.50 418.50,503.39 420.50,503.65 422.50,503.37 424.50,503.45 426.50,503.55 428.50,503.66 430.50,503.43 432.50,503.37 434.50,503.78" fill="none" stroke="#000" stroke-width="1.1" stroke-linejoin="round"/>
<polyline points="342.50,504.71 344.50,505.03 346.50,505.00 348.50,504.74 350.50,504.78 352.50,504.81 354.50,504.87 356.50,504.85 358.50,504.83 360.50,504.86 362.50,505.02 364.50,504.80 366.50,504.77 368.50,504.91 370.50,504.67 372.50,504.70 374.50,505.04 376.50,504.81 378.50,504.82 380.50,504.56 382.50,504.76 384.50,504.84 386.50,504.56 388.50,504.86 390.50,504.87 392.50,504.58 394.50,504.86 396.50,504.78 398.50,504.89 400.50,504.73 402.50,504.90 404.50,504.92 406.50,504.56 408.50,504.58 410.50,504.89 412.50,505.03 414.50,504.68 416.50,504.78 418.50,504.85 420.50,504.71 422.50,504.73 424.50,504.71 426.50,504.73 428.50,504.85 430.50,504.70 432.50,504.74 434.50,504.94" fill="none" stroke="#000" stroke-width="1.1" stroke-linejoin="round"/>
<polyline points="372.00,503.77 374.00,503.95 376.00,503.96 378.00,503.70 380.00,503.53 382.00,503.60 384.00,503.16 386.00,502.91 388.00,502.76 390.00,502.65 392.00,502.24 394.00,502.24 396.00,502.25 398.00,502.54 400.00,502.55 402.00,502.93 404.00,502.90 406.00,503.20 408.00,503.53 410.00,503.80 412.00,503.75 414.00,503.75 416.00,503.77 418.00,503.97 420.00,503.85 422.00,504.11 424.00,504.13 426.00,503.87 428.00,503.91 430.00,504.12 432.00,504.06 434.00,504.12" fill="none" stroke="#000" stroke-width="0.9" stroke-linejoin="round"/>
<text x="376.2" y="467.1" font-size="7.8" text-anchor="start" fill="#000">-SMTC + celecoxib</text>
<text x="406.4" y="490.4" font-size="8.0" text-anchor="start" fill="#000">-celecoxib</text>
<text x="405.6" y="496.1" font-size="8.0" text-anchor="start" fill="#000">-SMTC</text>
<text x="406.4" y="501.3" font-size="8.0" text-anchor="start" fill="#000">-control</text>
</g>
</svg>
</body></html>
